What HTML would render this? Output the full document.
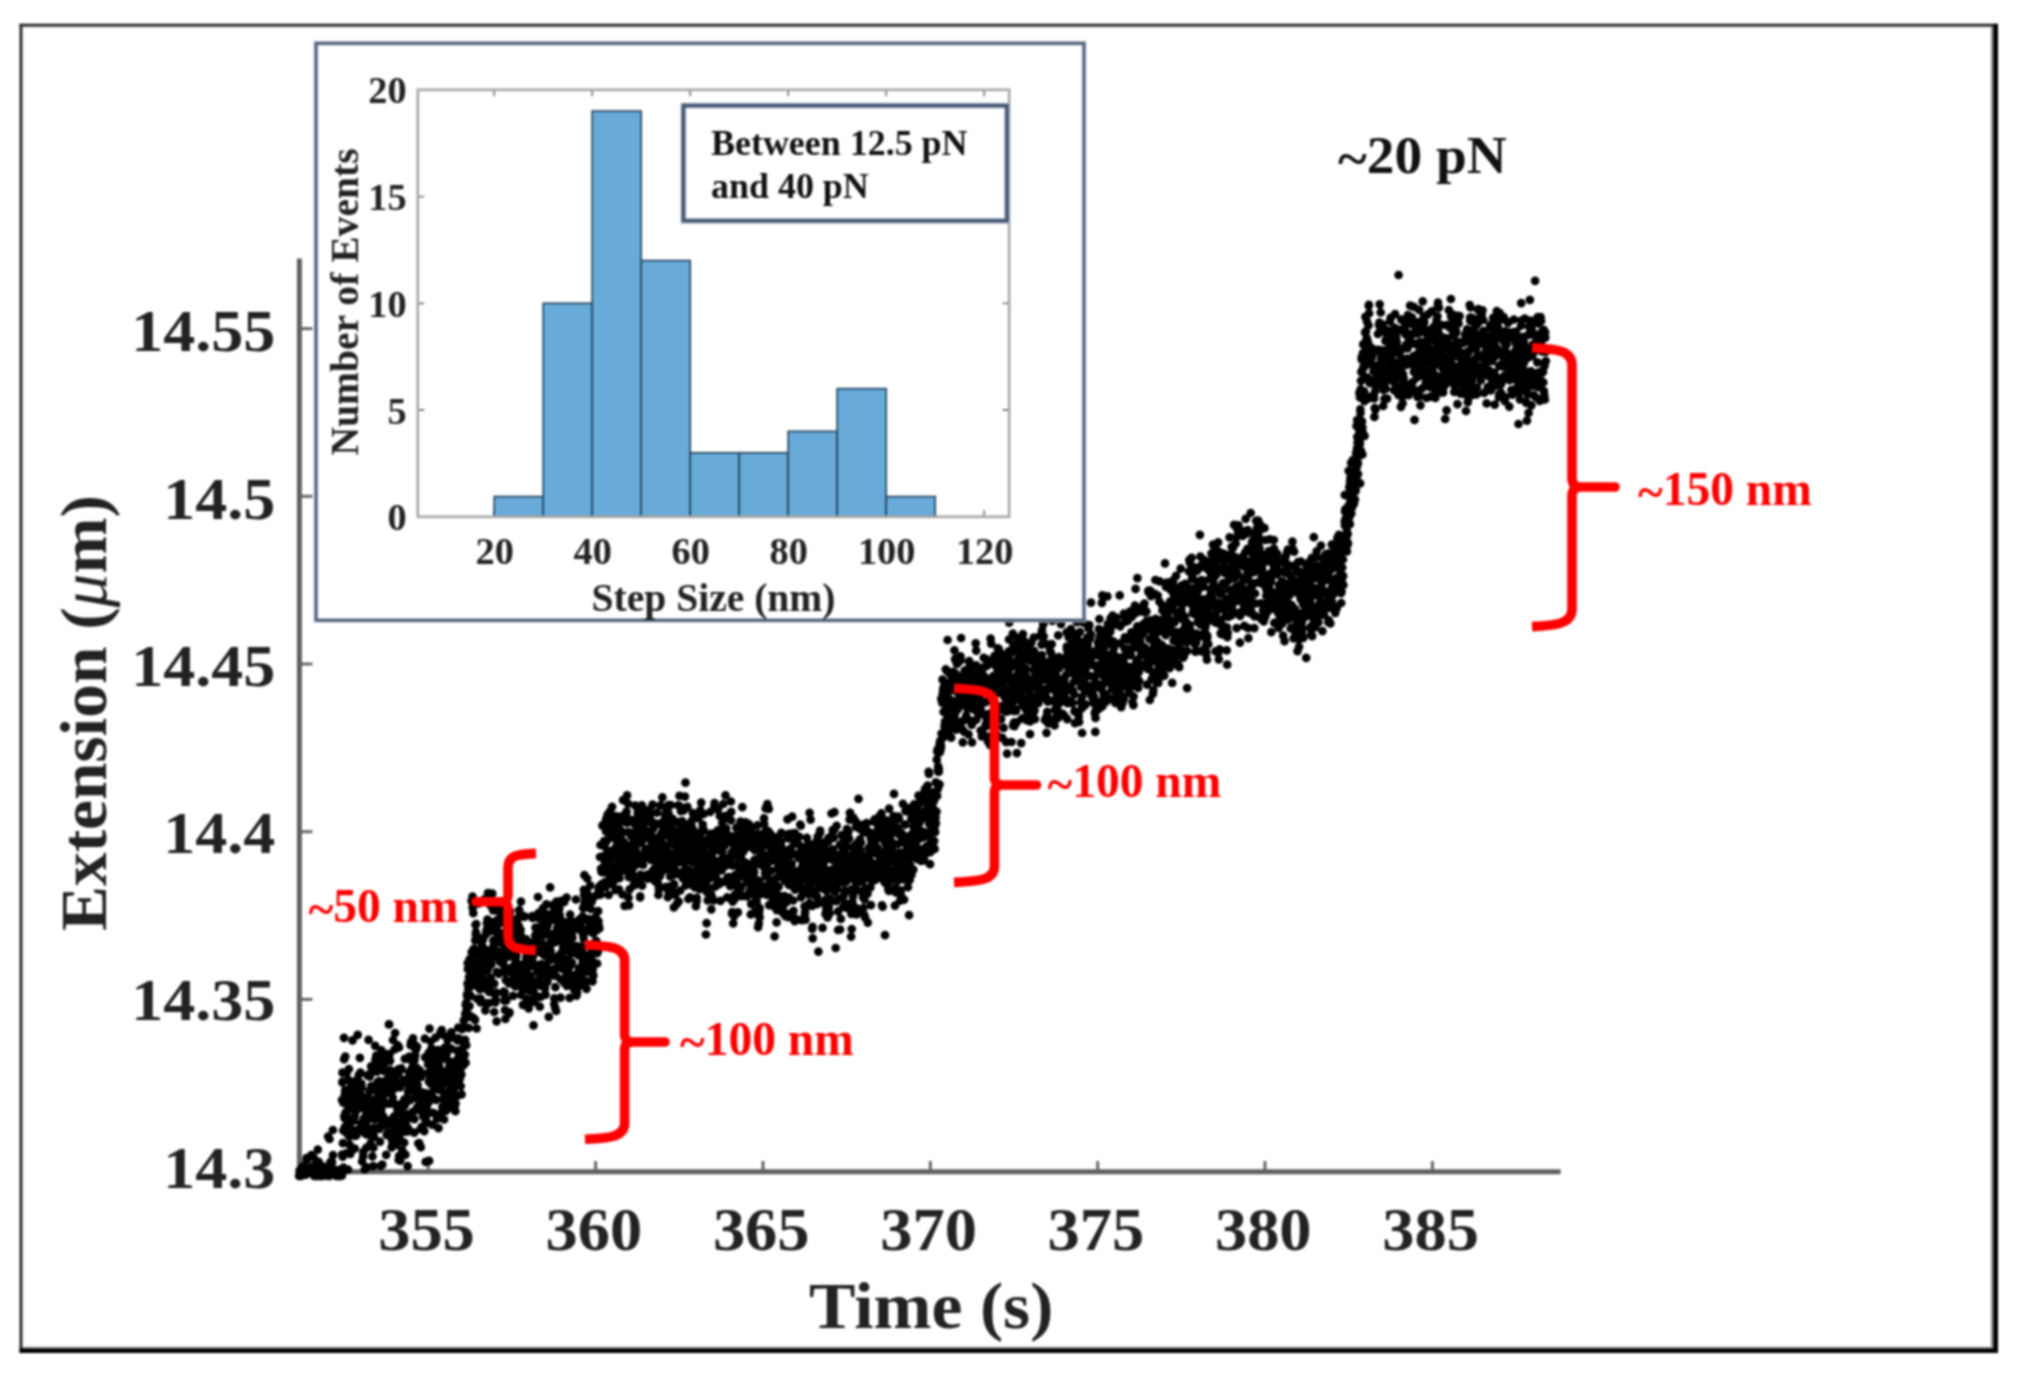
<!DOCTYPE html>
<html lang="en"><head><meta charset="utf-8"><title>Extension vs time</title>
<style>html,body{margin:0;padding:0;background:#fff}svg{display:block;filter:blur(0.9px)}text{font-family:"Liberation Serif",serif;font-weight:bold}</style></head><body>
<svg width="2021" height="1373" viewBox="0 0 2021 1373">
<rect width="2021" height="1373" fill="#fff"/>
<g>
<rect x="19.6" y="26.1" width="1975" height="1.5" fill="#b4b4b4"/>
<rect x="22" y="23.8" width="1.3" height="1326" fill="#c4c4c4"/>
<rect x="1990.9" y="25" width="2.6" height="1324" fill="#8c8c8c"/>
<rect x="20" y="1346.6" width="1974" height="1.9" fill="#a8a8a8"/>
<rect x="19.6" y="23.8" width="1978.4" height="2.4" fill="#1e1e1e"/>
<rect x="19.6" y="23.8" width="2.5" height="1329" fill="#1e1e1e"/>
<rect x="1993.3" y="23.8" width="4.7" height="1329.2" fill="#000"/>
<rect x="19.6" y="1348.3" width="1978.4" height="4.7" fill="#000"/>
</g>
<g stroke="#5f5f5f" fill="none">
<path d="M299.4 258.6V1174.2" stroke-width="5"/>
<path d="M296.9 1171.8H1560.6" stroke-width="5"/>
<g stroke-width="3" stroke="#666">
<path d="M428.3 1171V1161"/>
<path d="M595.6 1171V1161"/>
<path d="M763.0 1171V1161"/>
<path d="M930.3 1171V1161"/>
<path d="M1097.7 1171V1161"/>
<path d="M1265.0 1171V1161"/>
<path d="M1432.4 1171V1161"/>
<path d="M301 328.6H312.4"/>
<path d="M301 496.3H312.4"/>
<path d="M301 664.0H312.4"/>
<path d="M301 831.7H312.4"/>
<path d="M301 999.4H312.4"/>
<path d="M301 1167.1H312.4"/>
</g></g>
<text transform="translate(426.5 1250.4) scale(1.065 1)" text-anchor="middle" font-size="60.5px" fill="#222">355</text>
<text transform="translate(593.85 1250.4) scale(1.065 1)" text-anchor="middle" font-size="60.5px" fill="#222">360</text>
<text transform="translate(761.2 1250.4) scale(1.065 1)" text-anchor="middle" font-size="60.5px" fill="#222">365</text>
<text transform="translate(928.55 1250.4) scale(1.065 1)" text-anchor="middle" font-size="60.5px" fill="#222">370</text>
<text transform="translate(1095.9 1250.4) scale(1.065 1)" text-anchor="middle" font-size="60.5px" fill="#222">375</text>
<text transform="translate(1263.25 1250.4) scale(1.065 1)" text-anchor="middle" font-size="60.5px" fill="#222">380</text>
<text transform="translate(1430.6 1250.4) scale(1.065 1)" text-anchor="middle" font-size="60.5px" fill="#222">385</text>
<text transform="translate(275.4 351.2) scale(1.077 1)" text-anchor="end" font-size="59.5px" fill="#222">14.55</text>
<text transform="translate(275.4 518.5) scale(1.077 1)" text-anchor="end" font-size="59.5px" fill="#222">14.5</text>
<text transform="translate(275.4 685.8) scale(1.077 1)" text-anchor="end" font-size="59.5px" fill="#222">14.45</text>
<text transform="translate(275.4 853.1) scale(1.077 1)" text-anchor="end" font-size="59.5px" fill="#222">14.4</text>
<text transform="translate(275.4 1020.4) scale(1.077 1)" text-anchor="end" font-size="59.5px" fill="#222">14.35</text>
<text transform="translate(275.4 1187.7) scale(1.077 1)" text-anchor="end" font-size="59.5px" fill="#222">14.3</text>
<text transform="translate(931.2 1328) scale(1.055 1)" text-anchor="middle" font-size="66px" fill="#222">Time (s)</text>
<text transform="translate(105.5 713) rotate(-90) scale(1.02 1)" text-anchor="middle" font-size="66px" fill="#222">Extension (<tspan font-style="italic" font-weight="normal">μ</tspan>m)</text>
<path d="M342.0 1100.0h0M342.3 1082.3h0M342.5 1072.7h0M342.6 1081.5h0M342.9 1143.2h0M343.3 1102.6h0M343.3 1130.5h0M343.7 1100.5h0M344.0 1037.8h0M344.1 1059.2h0M344.3 1116.2h0M344.6 1118.2h0M344.8 1094.5h0M345.1 1090.3h0M345.3 1056.6h0M345.6 1112.5h0M345.9 1132.4h0M346.1 1153.4h0M346.3 1112.2h0M346.6 1073.1h0M346.7 1115.5h0M346.9 1104.4h0M347.3 1093.1h0M347.4 1129.4h0M347.6 1124.4h0M348.0 1169.6h0M348.2 1127.3h0M348.5 1080.2h0M348.7 1120.1h0M348.9 1069.0h0M349.1 1136.4h0M349.3 1134.9h0M349.5 1144.7h0M349.8 1134.2h0M350.1 1152.4h0M350.3 1153.9h0M350.5 1128.7h0M350.7 1098.3h0M351.1 1134.7h0M351.2 1085.9h0M351.5 1101.3h0M351.9 1103.5h0M352.0 1095.9h0M352.3 1084.5h0M352.5 1040.3h0M352.8 1108.7h0M352.9 1093.2h0M353.2 1130.2h0M353.4 1131.3h0M353.8 1120.6h0M353.9 1096.8h0M354.2 1081.6h0M354.3 1130.3h0M354.6 1117.1h0M354.8 1148.6h0M355.0 1136.0h0M355.4 1112.4h0M355.5 1130.3h0M355.9 1084.8h0M356.1 1081.4h0M356.3 1135.4h0M356.6 1133.5h0M356.8 1104.2h0M356.9 1096.4h0M357.2 1102.3h0M357.4 1103.8h0M357.7 1034.8h0M357.9 1082.6h0M358.3 1081.3h0M358.4 1081.6h0M358.7 1075.0h0M358.9 1089.2h0M359.2 1084.2h0M359.4 1088.1h0M359.5 1108.1h0M359.9 1057.9h0M360.2 1106.7h0M360.4 1072.5h0M360.6 1107.4h0M360.7 1094.0h0M361.0 1124.2h0M361.4 1083.6h0M361.5 1099.1h0M361.7 1087.3h0M362.1 1161.5h0M362.3 1129.3h0M362.5 1129.3h0M362.7 1121.8h0M362.9 1097.2h0M363.1 1156.3h0M363.3 1151.9h0M363.8 1118.4h0M363.9 1131.8h0M364.2 1122.7h0M364.3 1108.4h0M364.7 1102.4h0M364.7 1169.5h0M365.1 1131.2h0M365.2 1133.4h0M365.5 1117.1h0M365.9 1125.2h0M366.1 1111.2h0M366.3 1147.8h0M366.5 1134.3h0M366.9 1167.4h0M367.0 1112.9h0M367.3 1099.9h0M367.5 1075.3h0M367.7 1111.9h0M368.0 1128.7h0M368.3 1117.8h0M368.5 1097.0h0M368.6 1039.9h0M369.0 1119.2h0M369.0 1103.0h0M369.4 1091.0h0M369.7 1132.7h0M369.8 1076.6h0M370.1 1103.2h0M370.4 1105.6h0M370.5 1143.7h0M370.8 1072.9h0M371.1 1066.4h0M371.3 1086.0h0M371.6 1104.2h0M371.7 1136.9h0M371.9 1102.0h0M372.2 1108.7h0M372.4 1156.4h0M372.7 1137.5h0M373.1 1086.3h0M373.2 1166.2h0M373.4 1147.7h0M373.6 1127.8h0M374.0 1136.5h0M374.1 1099.8h0M374.5 1114.5h0M374.6 1119.2h0M374.9 1090.3h0M375.2 1045.9h0M375.4 1059.5h0M375.6 1086.7h0M375.8 1065.1h0M376.1 1068.0h0M376.3 1055.5h0M376.6 1060.3h0M376.7 1129.0h0M377.0 1071.6h0M377.2 1063.4h0M377.6 1082.2h0M377.7 1065.1h0M378.0 1107.7h0M378.2 1127.7h0M378.5 1095.0h0M378.7 1099.3h0M379.0 1063.6h0M379.1 1081.1h0M379.4 1084.8h0M379.5 1128.8h0M379.7 1109.9h0M380.0 1141.7h0M380.4 1117.9h0M380.7 1165.9h0M380.7 1105.6h0M381.1 1089.7h0M381.3 1109.7h0M381.5 1050.4h0M381.8 1122.3h0M382.0 1122.6h0M382.3 1164.7h0M382.5 1059.7h0M382.7 1117.0h0M383.0 1097.3h0M383.1 1099.6h0M383.3 1116.4h0M383.6 1068.6h0M384.0 1118.3h0M384.2 1071.2h0M384.4 1056.6h0M384.5 1060.7h0M385.0 1081.1h0M385.2 1062.1h0M385.4 1062.2h0M385.6 1070.8h0M385.9 1054.5h0M385.9 1124.8h0M386.2 1154.8h0M386.7 1134.9h0M386.9 1103.6h0M387.2 1086.3h0M387.5 1090.6h0M387.6 1132.7h0M388.0 1092.4h0M388.1 1072.2h0M388.5 1074.6h0M388.6 1054.1h0M388.9 1024.4h0M389.2 1024.4h0M389.4 1055.2h0M389.7 1081.0h0M389.9 1123.2h0M390.1 1060.8h0M390.3 1070.1h0M390.6 1087.5h0M390.7 1103.7h0M391.1 1072.5h0M391.4 1091.3h0M391.6 1147.3h0M391.7 1138.8h0M392.0 1119.0h0M392.2 1119.6h0M392.4 1143.9h0M392.7 1097.6h0M393.0 1040.0h0M393.1 1130.3h0M393.5 1089.3h0M393.7 1120.9h0M393.8 1132.6h0M394.2 1082.0h0M394.5 1116.0h0M394.5 1049.5h0M394.9 1077.7h0M395.1 1033.0h0M395.4 1127.9h0M395.5 1134.9h0M395.8 1138.2h0M396.1 1145.0h0M396.4 1104.7h0M396.6 1143.4h0M396.7 1126.7h0M397.1 1142.3h0M397.3 1108.8h0M397.6 1107.0h0M397.6 1083.8h0M397.8 1045.3h0M398.2 1069.4h0M398.4 1073.3h0M398.7 1160.0h0M399.0 1047.4h0M399.1 1156.1h0M399.3 1122.8h0M399.6 1139.4h0M399.9 1087.4h0M400.0 1104.7h0M400.3 1160.6h0M400.5 1113.3h0M400.8 1070.0h0M401.1 1115.2h0M401.3 1068.4h0M401.5 1084.4h0M401.8 1132.7h0M401.9 1105.0h0M402.2 1150.3h0M402.4 1127.4h0M402.7 1103.9h0M402.9 1128.1h0M403.3 1080.7h0M403.4 1113.6h0M403.6 1079.8h0M403.8 1127.5h0M404.2 1142.7h0M404.3 1099.6h0M404.5 1105.9h0M404.8 1058.8h0M405.0 1105.0h0M405.4 1154.6h0M405.5 1120.9h0M405.8 1080.6h0M406.1 1082.8h0M406.3 1116.5h0M406.4 1125.5h0M406.7 1098.1h0M407.1 1082.1h0M407.2 1131.7h0M407.5 1100.5h0M407.6 1166.2h0M408.0 1091.4h0M408.3 1114.3h0M408.5 1129.0h0M408.7 1091.5h0M408.9 1072.3h0M409.0 1077.4h0M409.4 1056.7h0M409.7 1088.2h0M409.8 1115.0h0M410.0 1117.8h0M410.3 1100.1h0M410.6 1045.1h0M410.9 1081.0h0M411.0 1042.2h0M411.2 1069.5h0M411.6 1060.7h0M411.8 1086.2h0M412.1 1118.2h0M412.4 1061.7h0M412.6 1067.5h0M412.8 1091.2h0M413.0 1038.4h0M413.2 1111.5h0M413.5 1088.2h0M413.6 1072.7h0M414.0 1079.6h0M414.2 1132.7h0M414.4 1119.1h0M414.6 1060.0h0M414.8 1045.2h0M415.1 1048.0h0M415.2 1055.4h0M415.7 1095.0h0M415.8 1050.0h0M416.0 1081.5h0M416.3 1069.0h0M416.6 1067.8h0M416.7 1088.9h0M417.1 1046.8h0M417.3 1107.3h0M417.4 1109.9h0M417.6 1085.1h0M418.0 1099.3h0M418.3 1076.1h0M418.3 1143.3h0M418.7 1106.9h0M419.0 1092.9h0M419.2 1143.1h0M419.3 1092.5h0M419.5 1108.6h0M420.0 1070.7h0M420.0 1074.6h0M420.3 1091.8h0M420.6 1129.0h0M420.8 1147.2h0M421.1 1076.9h0M421.2 1104.3h0M421.6 1127.2h0M421.7 1111.1h0M422.1 1097.4h0M422.1 1094.6h0M422.5 1103.8h0M422.6 1097.1h0M422.9 1094.1h0M423.1 1115.9h0M423.5 1116.8h0M423.7 1111.1h0M423.8 1092.9h0M424.3 1131.1h0M424.5 1099.9h0M424.7 1094.6h0M424.8 1038.7h0M425.1 1057.3h0M425.3 1109.2h0M425.5 1123.1h0M425.7 1161.9h0M426.0 1116.7h0M426.2 1113.2h0M426.4 1109.6h0M426.8 1106.4h0M427.0 1122.7h0M427.2 1101.9h0M427.5 1111.5h0M427.7 1093.6h0M428.0 1073.0h0M428.1 1064.4h0M428.4 1102.6h0M428.7 1052.9h0M428.9 1081.6h0M429.1 1160.9h0M429.5 1028.7h0M429.7 1094.0h0M429.8 1060.5h0M430.0 1064.6h0M430.2 1078.8h0M430.7 1041.5h0M430.9 1052.4h0M431.0 1083.9h0M431.4 1048.6h0M431.5 1076.4h0M431.8 1058.9h0M432.0 1068.4h0M432.3 1124.7h0M432.4 1096.3h0M432.7 1060.0h0M433.0 1049.9h0M433.1 1112.8h0M433.4 1073.4h0M433.7 1062.7h0M434.0 1088.9h0M434.2 1073.0h0M434.5 1054.1h0M434.7 1071.6h0M434.9 1064.7h0M435.2 1076.3h0M435.4 1059.7h0M435.6 1037.6h0M435.8 1068.7h0M436.0 1099.9h0M436.3 1078.7h0M436.4 1052.0h0M436.9 1078.4h0M437.0 1119.0h0M437.2 1114.8h0M437.6 1083.5h0M437.6 1087.5h0M438.0 1052.5h0M438.1 1050.1h0M438.5 1128.2h0M438.7 1071.7h0M439.0 1064.7h0M439.1 1089.9h0M439.5 1083.4h0M439.7 1060.5h0M439.9 1058.6h0M440.2 1079.2h0M440.3 1089.1h0M440.6 1032.2h0M440.9 1058.1h0M441.1 1113.0h0M441.2 1076.0h0M441.6 1085.4h0M441.7 1030.2h0M442.0 1072.9h0M442.3 1083.2h0M442.4 1106.8h0M442.8 1098.8h0M442.8 1034.7h0M443.3 1055.5h0M443.4 1079.4h0M443.6 1071.4h0M444.0 1092.6h0M444.1 1119.5h0M444.4 1110.1h0M444.5 1052.6h0M444.9 1047.5h0M445.1 1053.1h0M445.4 1077.4h0M445.5 1092.9h0M445.8 1107.3h0M446.1 1110.7h0M446.3 1095.5h0M446.4 1097.7h0M446.8 1053.4h0M446.9 1059.2h0M447.2 1046.6h0M447.6 1039.9h0M447.6 1037.3h0M447.9 1083.7h0M448.3 1103.5h0M448.5 1106.5h0M448.7 1079.3h0M449.0 1071.5h0M449.1 1091.2h0M449.4 1065.5h0M449.7 1067.3h0M449.9 1069.3h0M450.1 1107.3h0M450.3 1068.1h0M450.6 1075.8h0M450.8 1085.0h0M451.1 1048.7h0M451.3 1032.3h0M451.5 1094.8h0M451.8 1103.8h0M452.0 1088.3h0M452.2 1083.7h0M452.6 1067.9h0M452.7 1097.7h0M453.0 1064.0h0M453.3 1062.2h0M453.4 1037.5h0M453.7 1089.9h0M453.8 1107.6h0M454.1 1082.9h0M454.5 1107.8h0M454.6 1085.0h0M454.9 1061.6h0M455.1 1074.4h0M455.4 1111.2h0M455.6 1103.6h0M455.8 1085.1h0M456.0 1078.1h0M456.2 1074.6h0M456.5 1081.8h0M456.7 1096.2h0M457.1 1059.5h0M457.2 1051.0h0M457.5 1040.4h0M457.7 1050.6h0M458.0 1084.7h0M458.3 1027.7h0M458.5 1064.9h0M458.6 1038.4h0M458.8 1083.2h0M459.2 1066.5h0M459.4 1053.6h0M459.7 1069.6h0M459.8 1078.6h0M460.2 1062.9h0M460.3 1069.6h0M460.6 1060.7h0M460.7 1086.1h0M461.0 1062.7h0M461.4 1074.5h0M461.6 1094.3h0M461.8 1049.8h0M462.1 1040.9h0M462.2 1029.2h0M462.4 1040.6h0M462.7 1063.7h0M462.9 1028.3h0M463.1 1056.3h0M463.5 1065.1h0M463.7 1043.6h0M463.8 1020.4h0M464.2 1027.7h0M464.5 1027.0h0M464.6 1043.9h0M464.8 1054.7h0M465.1 1039.9h0M465.3 1013.9h0M465.6 1062.7h0M465.8 1004.9h0M466.1 1003.0h0M466.2 1045.2h0M466.5 1010.2h0M466.8 1017.3h0M467.0 995.7h0M467.2 993.8h0M467.6 983.7h0M467.7 963.1h0M467.9 969.2h0M468.1 968.7h0M468.3 987.8h0M468.6 1027.9h0M469.0 977.0h0M469.2 967.4h0M469.3 994.3h0M469.5 1006.1h0M469.8 959.1h0M470.2 1015.8h0M470.3 971.0h0M470.7 986.1h0M470.8 996.1h0M471.1 986.2h0M471.3 970.2h0M471.6 900.8h0M471.7 952.0h0M471.9 976.2h0M472.2 901.8h0M472.5 896.7h0M472.6 907.7h0M472.9 962.3h0M473.2 1017.9h0M473.3 913.2h0M473.6 978.4h0M473.8 948.8h0M474.1 953.5h0M474.5 951.6h0M474.5 977.8h0M474.8 1019.3h0M475.0 1019.9h0M475.3 940.4h0M475.5 924.8h0M475.8 934.6h0M476.0 932.3h0M476.2 924.1h0M476.6 1028.5h0M476.7 985.6h0M477.0 951.7h0M477.2 964.1h0M477.5 998.9h0M477.8 937.1h0M477.9 969.0h0M478.3 980.0h0M478.5 970.8h0M478.7 903.3h0M478.8 956.9h0M479.2 950.9h0M479.4 939.8h0M479.7 985.9h0M479.8 989.1h0M480.2 965.8h0M480.4 950.6h0M480.5 998.5h0M480.8 1002.4h0M480.9 987.6h0M481.4 1002.1h0M481.6 955.8h0M481.9 945.2h0M482.0 941.7h0M482.3 973.2h0M482.5 973.2h0M482.7 946.9h0M483.1 961.9h0M483.2 939.2h0M483.4 961.1h0M483.7 985.4h0M483.8 966.8h0M484.2 988.4h0M484.4 899.4h0M484.6 949.6h0M484.9 986.5h0M485.2 981.8h0M485.3 1010.4h0M485.5 979.8h0M485.7 956.1h0M486.0 934.2h0M486.2 1003.4h0M486.5 930.2h0M486.9 923.4h0M486.9 982.9h0M487.3 970.6h0M487.5 919.7h0M487.8 957.8h0M487.9 893.0h0M488.1 987.1h0M488.5 967.9h0M488.6 929.2h0M488.8 1003.2h0M489.2 991.9h0M489.4 950.4h0M489.6 980.6h0M489.8 959.7h0M490.2 984.9h0M490.3 978.9h0M490.6 905.6h0M490.7 977.8h0M491.1 958.9h0M491.2 956.5h0M491.5 964.1h0M491.7 931.0h0M492.0 930.8h0M492.3 893.5h0M492.4 922.2h0M492.7 929.5h0M493.0 992.6h0M493.2 910.4h0M493.4 940.4h0M493.7 945.1h0M493.9 941.5h0M494.2 1012.0h0M494.3 983.6h0M494.7 949.0h0M494.9 956.0h0M495.2 923.3h0M495.3 1002.4h0M495.6 999.4h0M495.9 950.6h0M496.0 928.3h0M496.2 992.6h0M496.6 1021.3h0M496.8 971.9h0M496.9 957.4h0M497.3 920.2h0M497.4 925.1h0M497.7 908.2h0M498.0 935.7h0M498.2 938.5h0M498.4 911.5h0M498.6 910.5h0M498.8 973.8h0M499.1 938.3h0M499.3 953.0h0M499.5 932.7h0M499.8 904.1h0M500.1 920.4h0M500.3 962.2h0M500.6 913.3h0M500.9 916.5h0M501.0 922.2h0M501.3 942.8h0M501.5 922.3h0M501.7 959.8h0M501.9 951.3h0M502.3 921.4h0M502.5 941.8h0M502.8 907.1h0M502.8 939.0h0M503.2 959.8h0M503.5 933.4h0M503.8 991.5h0M503.8 993.4h0M504.1 965.7h0M504.3 1000.6h0M504.7 970.3h0M504.8 992.4h0M505.0 1010.1h0M505.4 1019.0h0M505.6 972.3h0M505.8 980.1h0M506.2 1000.7h0M506.2 999.4h0M506.4 925.8h0M506.7 944.8h0M506.9 957.1h0M507.1 968.5h0M507.5 917.1h0M507.8 928.8h0M508.0 948.9h0M508.2 918.1h0M508.4 930.9h0M508.7 942.4h0M509.0 983.4h0M509.2 1013.3h0M509.5 1012.4h0M509.6 952.5h0M509.8 913.0h0M510.1 911.2h0M510.3 954.1h0M510.5 919.1h0M510.8 932.5h0M511.1 947.3h0M511.2 971.3h0M511.5 948.6h0M511.8 938.7h0M512.0 925.6h0M512.2 935.3h0M512.4 922.5h0M512.7 924.2h0M513.0 974.7h0M513.2 995.9h0M513.3 966.4h0M513.7 941.5h0M514.0 977.2h0M514.0 935.0h0M514.3 948.9h0M514.5 958.7h0M514.9 921.9h0M515.2 986.4h0M515.2 945.8h0M515.5 957.9h0M515.7 982.4h0M516.0 961.1h0M516.4 956.1h0M516.4 978.0h0M516.7 921.1h0M517.0 946.5h0M517.2 920.3h0M517.5 939.8h0M517.7 918.3h0M517.9 932.2h0M518.2 964.9h0M518.5 971.3h0M518.7 925.8h0M518.8 985.4h0M519.2 910.2h0M519.3 935.5h0M519.7 932.7h0M519.7 929.6h0M520.2 914.0h0M520.3 915.0h0M520.6 929.9h0M520.8 935.5h0M521.0 901.7h0M521.2 994.9h0M521.4 985.1h0M521.7 939.3h0M521.9 978.3h0M522.2 985.6h0M522.4 965.9h0M522.7 990.4h0M522.9 1004.8h0M523.2 966.6h0M523.4 980.2h0M523.6 947.6h0M523.9 972.8h0M524.2 963.6h0M524.3 917.0h0M524.6 916.3h0M524.9 976.0h0M525.1 972.2h0M525.4 942.0h0M525.7 978.6h0M525.8 974.6h0M526.1 939.4h0M526.2 957.3h0M526.4 984.8h0M526.7 999.1h0M527.0 974.2h0M527.3 987.8h0M527.4 958.9h0M527.8 961.5h0M527.9 963.4h0M528.1 967.7h0M528.5 1002.4h0M528.7 1008.4h0M528.8 989.4h0M529.2 990.7h0M529.3 957.6h0M529.5 979.4h0M529.8 980.2h0M530.2 982.2h0M530.2 962.4h0M530.7 975.8h0M530.8 976.7h0M530.9 966.1h0M531.3 960.0h0M531.5 1001.3h0M531.8 942.6h0M532.1 959.9h0M532.3 916.2h0M532.6 918.0h0M532.6 957.4h0M533.0 985.5h0M533.2 990.2h0M533.5 1025.4h0M533.8 993.2h0M534.0 996.8h0M534.1 983.8h0M534.4 1001.8h0M534.7 994.3h0M535.0 982.5h0M535.1 935.6h0M535.4 950.3h0M535.5 927.7h0M535.8 942.9h0M536.1 967.0h0M536.3 934.0h0M536.5 952.2h0M536.7 967.8h0M537.0 965.4h0M537.2 970.9h0M537.4 931.9h0M537.8 937.0h0M538.0 897.0h0M538.2 927.5h0M538.5 913.2h0M538.6 927.6h0M538.8 915.2h0M539.1 918.4h0M539.3 929.6h0M539.7 976.3h0M539.8 1006.7h0M540.1 969.5h0M540.4 980.3h0M540.5 996.9h0M540.7 985.9h0M541.1 951.6h0M541.3 964.2h0M541.5 946.6h0M541.8 912.4h0M541.9 918.1h0M542.2 979.7h0M542.5 943.9h0M542.7 953.9h0M542.9 908.4h0M543.2 970.1h0M543.5 915.4h0M543.6 935.3h0M544.0 924.2h0M544.0 919.8h0M544.5 919.5h0M544.5 955.5h0M544.8 970.1h0M545.0 988.2h0M545.5 994.6h0M545.5 980.9h0M545.8 965.0h0M546.2 949.3h0M546.4 928.5h0M546.4 904.4h0M546.8 914.4h0M547.0 971.7h0M547.3 975.1h0M547.4 981.8h0M547.7 968.7h0M547.8 925.3h0M548.1 932.8h0M548.4 949.7h0M548.6 958.3h0M548.8 1016.9h0M549.1 957.0h0M549.3 958.7h0M549.5 948.6h0M550.0 934.6h0M550.1 887.4h0M550.3 960.1h0M550.6 941.2h0M550.7 950.9h0M551.0 943.1h0M551.4 936.3h0M551.6 942.9h0M551.8 975.5h0M551.9 936.0h0M552.2 934.3h0M552.4 941.4h0M552.6 905.1h0M552.8 919.7h0M553.1 912.7h0M553.5 957.0h0M553.6 969.2h0M553.8 942.6h0M554.2 1004.2h0M554.3 998.3h0M554.6 957.7h0M554.8 969.4h0M555.2 1008.1h0M555.4 987.1h0M555.6 958.8h0M555.8 942.0h0M556.0 975.8h0M556.2 1011.0h0M556.5 901.6h0M556.9 930.0h0M557.1 917.0h0M557.3 927.5h0M557.5 915.3h0M557.6 938.5h0M558.0 913.4h0M558.1 964.1h0M558.3 925.5h0M558.7 924.5h0M559.0 934.4h0M559.2 909.4h0M559.4 907.3h0M559.5 932.7h0M559.7 915.2h0M560.2 954.2h0M560.4 959.0h0M560.5 997.7h0M560.9 979.5h0M561.0 936.7h0M561.2 900.9h0M561.5 921.1h0M561.6 935.8h0M562.0 939.3h0M562.2 921.0h0M562.5 968.9h0M562.7 952.0h0M563.0 947.9h0M563.3 944.5h0M563.4 959.4h0M563.6 979.0h0M564.0 968.8h0M564.1 982.6h0M564.3 901.9h0M564.5 924.9h0M565.0 933.0h0M565.1 963.0h0M565.2 959.3h0M565.6 929.2h0M565.8 949.7h0M566.0 936.3h0M566.4 928.5h0M566.6 897.5h0M566.7 974.4h0M566.9 985.9h0M567.2 969.5h0M567.6 963.3h0M567.7 965.3h0M568.0 932.3h0M568.2 944.5h0M568.4 922.1h0M568.7 962.4h0M568.8 935.6h0M569.2 974.0h0M569.3 967.3h0M569.6 997.9h0M570.0 980.2h0M570.1 914.6h0M570.2 936.3h0M570.6 979.3h0M570.8 934.1h0M570.9 953.9h0M571.2 964.3h0M571.4 977.5h0M571.8 982.9h0M572.0 962.6h0M572.2 936.0h0M572.4 938.0h0M572.8 925.7h0M572.9 927.5h0M573.3 921.8h0M573.5 946.4h0M573.7 975.4h0M573.9 982.4h0M574.2 989.8h0M574.3 980.8h0M574.7 949.7h0M574.8 989.8h0M575.1 984.1h0M575.3 928.9h0M575.6 984.9h0M575.9 899.5h0M575.9 952.6h0M576.4 946.2h0M576.5 995.6h0M576.7 947.5h0M577.0 926.8h0M577.1 992.6h0M577.4 974.4h0M577.7 954.1h0M577.9 986.4h0M578.2 955.1h0M578.5 986.4h0M578.8 968.4h0M579.0 929.1h0M579.2 919.7h0M579.3 925.5h0M579.7 984.9h0M579.8 955.8h0M580.2 970.8h0M580.4 974.8h0M580.6 979.5h0M580.8 949.6h0M581.0 946.6h0M581.3 922.4h0M581.5 976.0h0M581.7 931.5h0M581.9 950.6h0M582.3 929.4h0M582.6 916.3h0M582.6 962.8h0M582.8 957.8h0M583.1 907.9h0M583.3 935.2h0M583.6 938.5h0M583.9 889.8h0M584.1 895.0h0M584.4 875.1h0M584.5 902.8h0M584.9 900.7h0M585.0 968.8h0M585.3 957.6h0M585.6 907.4h0M585.9 955.3h0M586.0 964.9h0M586.3 968.8h0M586.5 988.8h0M586.9 981.4h0M587.0 892.5h0M587.2 878.5h0M587.6 898.5h0M587.8 930.9h0M587.9 902.0h0M588.1 946.0h0M588.5 972.2h0M588.6 919.0h0M588.9 956.5h0M589.3 926.9h0M589.3 921.6h0M589.5 927.6h0M589.8 931.1h0M590.0 897.2h0M590.3 885.5h0M590.6 920.7h0M590.8 908.8h0M591.0 965.4h0M591.4 924.4h0M591.6 952.5h0M591.8 960.1h0M591.9 901.4h0M592.2 925.4h0M592.5 981.4h0M592.7 969.8h0M593.0 926.4h0M593.2 933.3h0M593.4 975.5h0M593.6 930.4h0M593.9 920.5h0M594.2 929.0h0M594.4 951.7h0M594.6 942.7h0M595.0 927.2h0M595.1 948.7h0M595.3 950.9h0M595.6 916.8h0M595.9 947.1h0M596.0 895.6h0M596.3 941.0h0M596.6 930.4h0M596.8 947.2h0M597.1 963.5h0M597.2 953.2h0M597.5 924.3h0M597.7 945.5h0M598.1 911.1h0M598.1 950.8h0M598.5 921.4h0M598.6 888.9h0M599.0 926.7h0M599.3 928.4h0M599.3 886.7h0M599.7 886.1h0M599.9 889.2h0M600.0 857.0h0M600.3 894.7h0M600.5 845.0h0M600.8 894.5h0M601.0 868.8h0M601.3 886.7h0M601.5 871.8h0M601.8 870.0h0M602.1 883.8h0M602.3 856.6h0M602.4 825.6h0M602.7 872.3h0M602.8 870.3h0M603.2 867.3h0M603.5 871.5h0M603.6 858.8h0M604.0 824.2h0M604.2 841.1h0M604.3 845.8h0M604.7 846.4h0M604.8 883.5h0M605.2 863.4h0M605.2 882.2h0M605.5 887.2h0M605.9 869.6h0M606.0 831.3h0M606.2 818.9h0M606.5 826.1h0M606.7 841.1h0M607.0 840.3h0M607.3 852.4h0M607.6 814.6h0M607.6 852.6h0M608.0 816.8h0M608.3 859.7h0M608.4 863.7h0M608.7 895.0h0M608.8 860.0h0M609.2 874.8h0M609.4 833.2h0M609.7 884.2h0M609.9 828.7h0M610.2 830.0h0M610.2 811.2h0M610.6 878.1h0M610.7 851.0h0M611.0 873.9h0M611.2 878.9h0M611.5 830.2h0M611.8 815.1h0M612.1 837.5h0M612.1 806.9h0M612.4 854.8h0M612.7 823.7h0M613.0 880.3h0M613.2 882.2h0M613.4 833.4h0M613.7 876.8h0M613.9 824.9h0M614.1 850.3h0M614.3 869.1h0M614.6 865.6h0M614.9 873.6h0M615.1 823.8h0M615.2 857.2h0M615.6 890.1h0M615.8 847.0h0M616.1 839.6h0M616.3 852.8h0M616.6 825.4h0M616.7 816.3h0M617.0 825.9h0M617.3 836.1h0M617.6 851.4h0M617.8 839.7h0M617.9 859.1h0M618.3 861.2h0M618.4 878.2h0M618.8 859.0h0M618.9 889.3h0M619.1 837.7h0M619.5 878.2h0M619.6 847.9h0M619.9 831.2h0M620.1 857.1h0M620.3 862.1h0M620.5 829.9h0M620.9 844.5h0M620.9 830.6h0M621.4 821.4h0M621.6 868.4h0M621.7 833.7h0M621.9 865.6h0M622.3 850.2h0M622.5 894.5h0M622.6 870.6h0M623.0 815.9h0M623.1 800.2h0M623.4 847.9h0M623.7 841.6h0M624.0 851.0h0M624.2 869.6h0M624.3 860.7h0M624.6 905.8h0M624.9 850.2h0M625.2 856.2h0M625.2 861.9h0M625.6 858.5h0M625.9 860.9h0M626.0 845.5h0M626.2 813.2h0M626.5 811.7h0M626.7 851.1h0M627.1 795.3h0M627.1 822.9h0M627.4 862.5h0M627.6 846.2h0M628.0 803.6h0M628.1 832.1h0M628.5 897.7h0M628.8 877.1h0M629.0 875.1h0M629.1 905.4h0M629.3 845.5h0M629.6 889.4h0M630.0 847.7h0M630.2 856.0h0M630.2 819.8h0M630.6 832.8h0M630.9 835.6h0M631.2 836.2h0M631.3 847.6h0M631.6 877.3h0M631.8 865.8h0M632.0 870.5h0M632.1 843.9h0M632.5 874.9h0M632.6 853.2h0M632.9 862.3h0M633.3 867.2h0M633.4 851.2h0M633.7 885.4h0M634.0 822.8h0M634.1 821.1h0M634.5 881.4h0M634.7 885.1h0M634.8 824.4h0M635.1 819.5h0M635.2 805.7h0M635.7 850.8h0M635.7 850.1h0M635.9 839.7h0M636.4 841.4h0M636.5 864.7h0M636.8 829.5h0M637.1 844.2h0M637.1 833.0h0M637.4 818.6h0M637.7 812.7h0M637.8 821.1h0M638.2 856.3h0M638.5 832.5h0M638.7 855.6h0M638.9 836.6h0M639.0 829.5h0M639.3 830.8h0M639.7 830.4h0M639.8 832.6h0M640.1 897.3h0M640.2 896.4h0M640.7 874.5h0M640.7 878.3h0M641.0 857.4h0M641.3 833.3h0M641.6 843.0h0M641.9 805.3h0M642.1 885.6h0M642.2 823.0h0M642.4 860.3h0M642.8 857.3h0M643.1 864.9h0M643.1 826.0h0M643.5 829.8h0M643.6 810.5h0M643.9 834.5h0M644.1 834.0h0M644.4 822.1h0M644.7 830.9h0M644.9 850.4h0M645.1 816.5h0M645.4 853.7h0M645.6 853.0h0M645.8 849.9h0M646.0 832.7h0M646.3 849.7h0M646.5 857.3h0M646.7 811.0h0M646.9 837.6h0M647.2 832.7h0M647.4 874.5h0M647.8 878.6h0M648.0 831.1h0M648.2 848.9h0M648.5 850.7h0M648.8 809.9h0M648.9 821.7h0M649.2 810.8h0M649.4 810.8h0M649.7 816.9h0M650.0 834.3h0M650.0 855.6h0M650.4 813.2h0M650.6 875.1h0M650.9 859.8h0M651.1 832.2h0M651.4 844.4h0M651.5 849.8h0M651.8 853.0h0M651.9 850.9h0M652.2 830.0h0M652.5 822.1h0M652.6 804.7h0M652.8 870.7h0M653.3 848.3h0M653.5 838.4h0M653.7 827.7h0M653.9 853.9h0M654.2 877.3h0M654.3 869.3h0M654.7 880.8h0M654.9 846.0h0M655.1 841.3h0M655.3 867.5h0M655.5 853.9h0M655.9 861.0h0M656.0 871.1h0M656.3 854.1h0M656.5 824.5h0M656.7 849.7h0M657.0 812.7h0M657.3 823.8h0M657.6 850.9h0M657.8 860.3h0M657.8 882.9h0M658.3 885.1h0M658.4 894.9h0M658.7 837.3h0M658.9 889.6h0M659.1 863.4h0M659.4 855.0h0M659.6 846.9h0M659.9 876.2h0M660.1 823.7h0M660.4 835.3h0M660.5 805.3h0M660.9 834.0h0M661.0 849.9h0M661.3 838.7h0M661.5 856.8h0M661.8 854.0h0M661.9 860.9h0M662.2 871.3h0M662.4 797.3h0M662.7 831.1h0M662.9 862.7h0M663.2 822.8h0M663.5 832.2h0M663.6 821.4h0M663.8 821.5h0M664.2 829.7h0M664.3 835.5h0M664.7 845.2h0M664.8 852.3h0M665.1 815.4h0M665.3 865.6h0M665.5 855.1h0M665.8 887.2h0M666.0 811.5h0M666.3 829.8h0M666.6 835.3h0M666.7 817.1h0M667.1 860.9h0M667.2 827.0h0M667.5 851.3h0M667.7 868.8h0M667.9 897.2h0M668.3 890.8h0M668.5 813.1h0M668.6 805.2h0M668.9 844.8h0M669.2 864.2h0M669.5 886.6h0M669.6 837.0h0M669.9 859.8h0M670.2 876.4h0M670.4 832.4h0M670.6 857.9h0M670.7 805.1h0M671.0 856.4h0M671.3 888.5h0M671.6 828.2h0M671.7 820.4h0M672.0 888.1h0M672.1 818.7h0M672.5 853.9h0M672.7 831.3h0M673.0 819.5h0M673.1 838.5h0M673.5 830.2h0M673.7 874.6h0M673.9 907.4h0M674.1 884.2h0M674.4 893.7h0M674.7 870.3h0M674.8 862.4h0M675.0 853.1h0M675.3 895.0h0M675.5 863.9h0M675.9 846.5h0M676.1 835.8h0M676.4 851.4h0M676.6 855.0h0M676.8 862.4h0M676.9 903.9h0M677.3 856.4h0M677.5 843.4h0M677.8 822.3h0M678.0 822.2h0M678.3 805.3h0M678.4 874.2h0M678.7 901.5h0M678.9 872.5h0M679.1 834.1h0M679.3 862.4h0M679.5 795.9h0M679.9 806.4h0M680.1 857.0h0M680.3 890.5h0M680.7 852.8h0M680.9 811.1h0M681.1 842.6h0M681.4 851.4h0M681.5 827.5h0M681.8 850.0h0M681.9 851.1h0M682.2 821.0h0M682.6 843.3h0M682.6 824.2h0M683.0 878.4h0M683.3 809.0h0M683.4 835.3h0M683.7 810.5h0M683.9 844.0h0M684.1 847.0h0M684.4 870.4h0M684.5 862.9h0M684.8 838.1h0M685.0 796.6h0M685.5 782.7h0M685.5 857.2h0M685.7 885.4h0M686.2 879.7h0M686.2 830.5h0M686.6 837.3h0M686.8 872.1h0M687.0 836.3h0M687.2 848.6h0M687.4 806.9h0M687.6 837.0h0M687.9 878.2h0M688.2 881.5h0M688.4 898.9h0M688.8 847.1h0M688.9 870.1h0M689.3 859.4h0M689.4 851.9h0M689.5 880.3h0M689.9 882.0h0M690.0 897.4h0M690.2 823.0h0M690.7 827.5h0M690.8 854.2h0M691.0 861.5h0M691.2 884.6h0M691.6 856.1h0M691.8 842.2h0M691.9 820.8h0M692.3 820.0h0M692.4 827.9h0M692.8 813.0h0M692.9 862.5h0M693.2 861.1h0M693.4 831.2h0M693.7 875.0h0M694.0 836.7h0M694.2 885.7h0M694.3 852.3h0M694.6 848.8h0M694.8 887.3h0M695.0 853.6h0M695.3 841.0h0M695.5 871.2h0M695.9 906.2h0M696.1 887.5h0M696.4 883.1h0M696.6 901.3h0M696.7 897.8h0M697.0 848.1h0M697.2 881.0h0M697.4 865.4h0M697.7 873.4h0M698.0 858.5h0M698.1 834.0h0M698.4 818.1h0M698.7 862.0h0M698.9 883.4h0M699.2 866.0h0M699.4 880.6h0M699.5 889.2h0M699.8 834.3h0M700.0 833.9h0M700.3 810.0h0M700.6 840.1h0M700.9 870.5h0M701.1 831.4h0M701.2 802.7h0M701.5 814.3h0M701.8 880.7h0M702.1 848.6h0M702.3 858.4h0M702.4 864.8h0M702.7 824.7h0M703.0 851.7h0M703.3 874.1h0M703.4 841.8h0M703.6 814.0h0M703.8 840.0h0M704.1 830.6h0M704.5 841.9h0M704.6 857.5h0M705.0 884.3h0M705.0 857.1h0M705.3 841.2h0M705.6 867.7h0M705.8 885.3h0M705.9 934.5h0M706.3 881.5h0M706.6 923.2h0M706.8 892.0h0M707.0 878.7h0M707.2 892.3h0M707.6 887.6h0M707.7 900.3h0M708.0 845.0h0M708.2 887.8h0M708.3 863.4h0M708.6 865.4h0M708.8 879.1h0M709.1 860.0h0M709.3 855.0h0M709.6 862.2h0M709.8 836.9h0M710.1 812.0h0M710.4 856.1h0M710.5 852.7h0M710.7 835.1h0M711.1 894.3h0M711.3 909.3h0M711.5 872.6h0M711.7 833.5h0M712.0 898.1h0M712.2 897.6h0M712.6 860.8h0M712.8 843.1h0M712.9 850.7h0M713.1 871.6h0M713.5 851.8h0M713.6 900.3h0M713.9 868.7h0M714.2 806.9h0M714.5 803.0h0M714.7 860.5h0M714.9 860.6h0M715.2 886.7h0M715.3 868.3h0M715.5 875.8h0M715.8 835.2h0M716.0 849.1h0M716.3 834.0h0M716.6 846.6h0M716.7 878.9h0M716.9 879.5h0M717.2 880.3h0M717.5 809.4h0M717.8 830.4h0M718.1 809.0h0M718.3 842.9h0M718.5 841.7h0M718.7 840.0h0M718.8 865.4h0M719.1 884.2h0M719.3 849.5h0M719.7 841.7h0M719.8 815.9h0M720.0 835.3h0M720.3 864.5h0M720.5 900.8h0M720.9 860.1h0M720.9 851.3h0M721.2 867.9h0M721.6 870.5h0M721.8 868.6h0M722.0 818.0h0M722.3 822.9h0M722.4 851.4h0M722.8 845.2h0M723.0 857.6h0M723.2 881.9h0M723.3 804.0h0M723.6 828.7h0M723.9 863.3h0M724.1 866.6h0M724.3 817.1h0M724.6 834.9h0M724.8 845.7h0M725.0 881.4h0M725.3 833.1h0M725.5 795.4h0M725.8 815.8h0M726.1 843.0h0M726.3 828.5h0M726.5 862.3h0M726.8 841.7h0M727.0 865.2h0M727.2 897.3h0M727.5 877.3h0M727.8 837.2h0M728.0 817.8h0M728.3 858.1h0M728.5 864.0h0M728.7 835.7h0M728.8 835.6h0M729.2 877.1h0M729.3 879.1h0M729.6 881.7h0M729.8 838.6h0M730.1 862.1h0M730.2 886.1h0M730.6 841.5h0M730.9 801.5h0M731.1 820.3h0M731.2 811.9h0M731.6 852.4h0M731.8 878.4h0M731.9 913.7h0M732.2 912.0h0M732.4 898.7h0M732.7 901.6h0M732.9 865.7h0M733.2 923.3h0M733.4 839.9h0M733.7 836.3h0M733.9 845.6h0M734.2 916.1h0M734.3 899.3h0M734.7 894.9h0M734.9 898.2h0M735.1 882.5h0M735.2 875.1h0M735.7 856.3h0M735.8 850.1h0M736.0 849.1h0M736.3 827.9h0M736.5 877.0h0M736.8 865.2h0M736.9 912.6h0M737.2 896.4h0M737.4 883.3h0M737.8 888.2h0M737.9 912.3h0M738.1 887.4h0M738.4 857.0h0M738.6 837.3h0M738.8 836.2h0M739.3 887.4h0M739.3 871.6h0M739.6 842.9h0M739.8 892.7h0M740.0 853.5h0M740.4 821.6h0M740.7 835.4h0M740.7 855.5h0M741.0 868.7h0M741.3 858.2h0M741.4 887.1h0M741.8 896.2h0M742.1 836.3h0M742.3 807.2h0M742.5 841.3h0M742.6 876.5h0M742.9 828.5h0M743.2 850.4h0M743.5 851.3h0M743.6 824.9h0M743.9 825.1h0M744.2 865.8h0M744.3 845.1h0M744.6 837.3h0M744.8 838.2h0M745.2 829.4h0M745.3 833.0h0M745.5 822.3h0M745.8 862.9h0M746.1 868.9h0M746.2 864.2h0M746.6 881.8h0M746.7 881.1h0M747.0 896.3h0M747.2 873.9h0M747.6 877.6h0M747.6 866.6h0M748.0 869.0h0M748.3 894.2h0M748.4 864.6h0M748.6 847.0h0M748.9 824.1h0M749.1 838.5h0M749.4 840.8h0M749.7 891.1h0M749.8 872.8h0M750.1 865.4h0M750.3 838.3h0M750.6 867.8h0M750.8 914.4h0M751.0 887.6h0M751.2 904.1h0M751.5 864.2h0M751.7 828.1h0M752.1 872.0h0M752.1 840.8h0M752.4 833.8h0M752.7 870.8h0M752.9 842.1h0M753.1 881.3h0M753.4 875.5h0M753.7 882.7h0M753.9 845.5h0M754.3 872.1h0M754.5 859.8h0M754.6 850.1h0M754.8 865.4h0M755.1 846.2h0M755.3 882.8h0M755.7 897.7h0M755.7 910.9h0M756.0 887.1h0M756.3 891.5h0M756.5 882.7h0M756.7 901.8h0M757.1 859.0h0M757.2 840.6h0M757.5 825.3h0M757.6 837.5h0M758.0 834.1h0M758.1 927.2h0M758.4 915.3h0M758.8 923.6h0M759.0 888.1h0M759.2 911.7h0M759.5 880.7h0M759.6 908.2h0M759.7 917.3h0M760.1 894.3h0M760.2 889.6h0M760.7 862.2h0M760.7 856.0h0M761.0 889.2h0M761.2 851.9h0M761.4 856.6h0M761.8 846.3h0M761.9 844.7h0M762.3 861.8h0M762.5 865.9h0M762.7 846.0h0M763.0 865.9h0M763.3 838.7h0M763.4 865.8h0M763.8 846.2h0M764.0 818.4h0M764.2 824.0h0M764.3 841.8h0M764.7 838.4h0M765.0 873.0h0M765.1 831.7h0M765.2 832.2h0M765.7 808.4h0M765.8 858.7h0M766.0 886.1h0M766.3 807.8h0M766.5 876.7h0M766.9 866.6h0M767.0 895.0h0M767.2 876.3h0M767.4 804.0h0M767.7 890.1h0M768.1 831.0h0M768.1 885.5h0M768.4 842.3h0M768.8 808.9h0M768.8 854.3h0M769.1 905.1h0M769.5 890.5h0M769.5 884.1h0M770.0 880.1h0M770.2 858.2h0M770.2 833.7h0M770.6 895.4h0M770.8 883.5h0M771.1 870.9h0M771.2 847.9h0M771.5 860.7h0M771.7 892.8h0M772.0 848.1h0M772.2 896.8h0M772.6 859.2h0M772.8 897.5h0M772.9 901.0h0M773.2 898.6h0M773.4 839.9h0M773.6 884.5h0M773.9 906.3h0M774.3 839.8h0M774.3 860.7h0M774.6 936.3h0M775.0 902.6h0M775.0 837.4h0M775.4 841.6h0M775.5 892.0h0M775.9 878.5h0M776.1 860.6h0M776.4 854.4h0M776.6 922.4h0M776.8 910.1h0M777.1 896.2h0M777.2 899.2h0M777.5 868.5h0M777.6 897.2h0M777.9 861.2h0M778.2 849.1h0M778.5 895.4h0M778.7 886.6h0M778.8 901.3h0M779.2 876.9h0M779.3 866.5h0M779.6 874.0h0M779.9 859.5h0M780.2 862.1h0M780.4 850.7h0M780.5 860.7h0M780.8 843.4h0M781.1 841.2h0M781.3 832.9h0M781.6 847.6h0M781.8 848.4h0M782.0 869.0h0M782.3 904.3h0M782.4 909.6h0M782.8 872.2h0M783.0 913.1h0M783.1 905.8h0M783.4 898.5h0M783.7 865.6h0M783.9 859.3h0M784.0 878.7h0M784.5 896.0h0M784.7 866.0h0M784.7 854.9h0M785.2 880.9h0M785.3 851.4h0M785.5 916.1h0M785.9 880.0h0M786.0 868.7h0M786.3 902.4h0M786.6 850.9h0M786.8 859.3h0M786.9 913.8h0M787.3 834.7h0M787.5 819.3h0M787.8 868.0h0M787.9 876.8h0M788.3 917.1h0M788.5 875.2h0M788.6 838.3h0M788.9 884.9h0M789.1 897.5h0M789.3 833.9h0M789.6 854.6h0M789.8 899.0h0M790.0 873.1h0M790.4 880.5h0M790.6 883.6h0M790.8 848.4h0M791.0 885.4h0M791.3 883.4h0M791.6 854.6h0M791.8 863.6h0M792.0 833.7h0M792.2 816.7h0M792.5 883.1h0M792.8 881.2h0M792.9 916.5h0M793.2 900.5h0M793.5 910.8h0M793.6 872.8h0M794.0 882.4h0M794.1 842.0h0M794.3 887.8h0M794.7 921.2h0M794.9 833.1h0M795.1 889.6h0M795.4 880.0h0M795.5 854.4h0M795.8 871.0h0M796.1 842.8h0M796.4 881.7h0M796.6 882.1h0M796.8 880.3h0M797.0 884.0h0M797.3 854.9h0M797.5 919.7h0M797.8 878.6h0M798.0 873.5h0M798.2 873.1h0M798.5 844.3h0M798.6 857.9h0M799.0 836.6h0M799.1 877.9h0M799.4 885.5h0M799.6 880.0h0M799.8 845.6h0M800.2 852.5h0M800.2 824.6h0M800.5 878.5h0M800.8 825.6h0M801.1 897.3h0M801.2 852.6h0M801.6 887.9h0M801.7 920.2h0M802.0 888.0h0M802.3 866.0h0M802.5 860.9h0M802.8 874.4h0M803.0 879.8h0M803.1 892.2h0M803.5 855.4h0M803.7 852.5h0M803.9 872.9h0M804.2 861.4h0M804.5 862.9h0M804.6 906.4h0M805.0 912.2h0M805.0 914.0h0M805.3 875.7h0M805.6 919.7h0M805.8 869.8h0M806.1 907.1h0M806.3 848.4h0M806.4 858.5h0M806.8 837.9h0M807.1 866.7h0M807.2 865.9h0M807.4 847.4h0M807.8 892.7h0M808.1 843.8h0M808.3 859.8h0M808.4 848.0h0M808.6 867.3h0M808.9 894.5h0M809.1 885.6h0M809.4 903.1h0M809.6 812.8h0M809.8 880.7h0M810.1 855.9h0M810.2 848.6h0M810.6 819.6h0M810.9 858.3h0M811.1 867.1h0M811.4 887.8h0M811.6 872.9h0M811.8 891.6h0M812.1 905.9h0M812.2 928.8h0M812.5 926.8h0M812.7 938.3h0M813.0 871.4h0M813.3 881.2h0M813.5 852.5h0M813.7 859.9h0M814.0 848.8h0M814.1 845.3h0M814.5 851.1h0M814.5 872.7h0M814.8 848.1h0M815.0 843.2h0M815.3 890.0h0M815.7 851.6h0M815.7 896.4h0M816.0 870.0h0M816.3 878.4h0M816.6 845.6h0M816.8 904.1h0M817.0 852.3h0M817.2 896.5h0M817.6 857.8h0M817.6 836.9h0M817.8 903.0h0M818.1 867.0h0M818.4 951.6h0M818.8 861.2h0M819.0 834.8h0M819.2 865.3h0M819.4 861.6h0M819.7 883.8h0M819.9 883.3h0M820.1 830.7h0M820.2 832.3h0M820.5 856.0h0M820.9 873.0h0M821.1 858.8h0M821.4 876.9h0M821.4 844.5h0M821.9 876.4h0M822.0 888.4h0M822.3 877.1h0M822.5 927.9h0M822.7 902.9h0M823.0 878.6h0M823.2 878.7h0M823.5 866.3h0M823.6 852.1h0M823.9 842.7h0M824.1 849.1h0M824.3 868.8h0M824.5 861.1h0M824.9 871.4h0M825.0 879.5h0M825.4 877.7h0M825.5 914.1h0M825.7 899.7h0M826.2 910.0h0M826.2 882.8h0M826.5 890.9h0M826.7 889.3h0M826.9 850.3h0M827.2 878.9h0M827.5 905.9h0M827.6 917.5h0M828.0 906.1h0M828.3 841.6h0M828.4 838.1h0M828.6 852.9h0M828.8 907.4h0M829.1 876.2h0M829.3 856.9h0M829.7 913.4h0M829.7 851.1h0M830.2 898.5h0M830.4 901.8h0M830.5 853.4h0M830.7 852.2h0M831.1 871.6h0M831.3 869.9h0M831.5 813.5h0M831.8 835.3h0M831.9 857.7h0M832.2 884.8h0M832.4 859.8h0M832.7 830.1h0M832.9 849.3h0M833.1 884.2h0M833.5 837.6h0M833.7 837.8h0M833.9 877.4h0M834.2 829.8h0M834.4 812.2h0M834.5 868.7h0M834.9 891.7h0M835.0 886.1h0M835.3 881.6h0M835.6 888.4h0M835.7 948.0h0M836.0 887.4h0M836.3 901.2h0M836.6 825.9h0M836.7 888.8h0M837.0 875.6h0M837.2 863.9h0M837.5 878.1h0M837.7 870.3h0M838.1 911.4h0M838.1 930.0h0M838.5 898.8h0M838.8 880.4h0M838.9 854.7h0M839.2 872.4h0M839.5 861.9h0M839.7 872.8h0M839.8 844.9h0M840.1 929.5h0M840.4 864.8h0M840.5 876.8h0M840.8 918.9h0M840.9 882.4h0M841.4 864.3h0M841.6 846.3h0M841.7 835.1h0M842.1 845.4h0M842.3 846.2h0M842.4 842.8h0M842.7 852.1h0M843.0 907.0h0M843.2 851.8h0M843.4 858.1h0M843.8 895.4h0M843.9 882.6h0M844.1 872.0h0M844.3 891.0h0M844.5 877.1h0M844.9 866.2h0M845.2 863.1h0M845.4 875.9h0M845.6 903.4h0M845.8 846.5h0M846.1 882.0h0M846.3 854.9h0M846.5 891.0h0M846.8 908.0h0M847.0 829.2h0M847.3 847.1h0M847.4 870.2h0M847.6 876.2h0M847.9 839.5h0M848.1 859.8h0M848.5 831.6h0M848.7 855.8h0M849.0 862.1h0M849.1 838.6h0M849.3 859.8h0M849.6 819.6h0M849.9 812.8h0M850.1 812.9h0M850.4 818.1h0M850.5 872.3h0M850.7 862.9h0M851.1 936.6h0M851.3 913.8h0M851.5 906.0h0M851.7 929.0h0M852.0 889.2h0M852.2 878.6h0M852.5 902.0h0M852.7 910.1h0M853.0 896.4h0M853.2 867.6h0M853.4 817.8h0M853.8 863.4h0M854.0 866.6h0M854.2 852.2h0M854.3 852.9h0M854.7 888.7h0M854.8 845.7h0M855.2 874.4h0M855.4 881.4h0M855.6 821.3h0M855.9 827.0h0M856.1 860.1h0M856.3 908.2h0M856.4 914.4h0M856.9 825.6h0M857.1 853.9h0M857.2 876.7h0M857.4 874.0h0M857.7 890.5h0M858.0 842.0h0M858.1 846.6h0M858.5 798.8h0M858.6 860.2h0M859.0 824.9h0M859.2 869.0h0M859.4 882.0h0M859.6 910.5h0M859.8 828.9h0M860.0 839.4h0M860.4 877.9h0M860.6 850.4h0M860.9 854.1h0M861.0 842.6h0M861.4 864.5h0M861.5 869.0h0M861.9 873.3h0M862.1 861.6h0M862.2 862.4h0M862.6 878.1h0M862.8 880.7h0M863.0 897.2h0M863.3 908.0h0M863.4 832.1h0M863.7 895.1h0M863.9 824.6h0M864.2 914.8h0M864.5 889.3h0M864.5 899.5h0M864.9 876.9h0M865.0 917.3h0M865.3 869.9h0M865.5 862.6h0M865.8 888.0h0M866.0 831.2h0M866.2 829.5h0M866.4 857.3h0M866.7 823.2h0M867.1 857.4h0M867.1 832.6h0M867.5 893.7h0M867.7 863.0h0M867.8 922.6h0M868.1 875.4h0M868.5 870.8h0M868.8 847.8h0M869.0 859.9h0M869.1 858.5h0M869.4 852.4h0M869.6 832.3h0M869.8 868.2h0M870.1 873.4h0M870.4 887.3h0M870.7 879.3h0M870.8 838.7h0M870.9 905.2h0M871.4 843.3h0M871.6 867.8h0M871.8 838.3h0M871.9 834.4h0M872.2 881.3h0M872.5 849.6h0M872.7 863.2h0M872.9 843.6h0M873.1 847.6h0M873.4 867.3h0M873.6 851.7h0M873.8 821.7h0M874.3 850.0h0M874.3 846.9h0M874.7 819.3h0M874.9 873.7h0M875.1 879.8h0M875.4 871.6h0M875.5 833.6h0M875.8 839.0h0M876.1 839.6h0M876.3 832.3h0M876.5 853.8h0M876.9 864.9h0M877.1 876.2h0M877.3 847.7h0M877.5 851.4h0M877.7 820.7h0M878.1 828.7h0M878.2 834.1h0M878.5 830.4h0M878.6 863.4h0M879.0 835.7h0M879.0 830.3h0M879.4 816.4h0M879.5 820.9h0M879.8 830.2h0M880.2 825.7h0M880.2 858.7h0M880.5 861.3h0M880.7 855.0h0M881.1 833.4h0M881.2 868.6h0M881.5 813.3h0M881.8 877.4h0M882.0 905.3h0M882.3 852.0h0M882.6 906.7h0M882.6 877.4h0M883.0 879.6h0M883.2 839.2h0M883.5 864.0h0M883.7 871.8h0M883.8 824.2h0M884.0 879.6h0M884.4 827.8h0M884.6 875.3h0M884.8 882.6h0M885.0 935.2h0M885.3 843.3h0M885.5 852.7h0M885.9 835.3h0M886.0 820.3h0M886.4 830.3h0M886.4 836.4h0M886.8 864.8h0M886.9 847.7h0M887.3 835.6h0M887.5 830.9h0M887.7 857.6h0M888.1 838.2h0M888.2 889.1h0M888.4 853.0h0M888.8 877.7h0M888.9 890.8h0M889.2 808.6h0M889.3 826.8h0M889.7 881.7h0M889.8 872.5h0M890.2 850.4h0M890.3 836.5h0M890.6 827.9h0M890.8 829.8h0M890.9 870.9h0M891.2 861.7h0M891.4 846.9h0M891.8 842.1h0M891.9 874.9h0M892.2 850.8h0M892.4 850.0h0M892.7 858.9h0M893.1 830.6h0M893.2 820.6h0M893.5 816.2h0M893.7 862.0h0M894.0 793.9h0M894.1 827.5h0M894.3 830.9h0M894.6 859.4h0M894.8 878.2h0M895.0 905.6h0M895.4 875.0h0M895.6 888.2h0M895.8 892.5h0M896.0 867.5h0M896.3 878.4h0M896.5 879.1h0M896.7 862.3h0M897.1 855.9h0M897.3 892.5h0M897.6 827.7h0M897.8 880.8h0M898.0 844.0h0M898.1 816.7h0M898.5 859.1h0M898.6 817.4h0M898.9 834.5h0M899.0 819.0h0M899.3 872.6h0M899.7 875.0h0M899.8 852.5h0M900.1 900.6h0M900.4 874.9h0M900.7 894.7h0M900.8 890.4h0M901.1 835.4h0M901.3 832.8h0M901.6 867.6h0M901.9 853.2h0M901.9 878.0h0M902.2 855.5h0M902.4 838.7h0M902.7 861.0h0M902.9 803.8h0M903.3 854.8h0M903.3 855.5h0M903.6 866.6h0M904.0 879.3h0M904.1 899.6h0M904.3 878.4h0M904.7 855.6h0M904.9 843.3h0M905.1 824.6h0M905.2 840.5h0M905.5 811.1h0M905.9 836.6h0M906.1 859.1h0M906.2 844.7h0M906.6 850.2h0M906.7 876.6h0M907.1 875.1h0M907.2 871.0h0M907.4 858.3h0M907.6 841.5h0M907.9 887.1h0M908.3 808.0h0M908.5 855.9h0M908.7 863.0h0M909.0 880.3h0M909.1 915.2h0M909.3 870.1h0M909.7 880.0h0M910.0 857.5h0M910.1 865.4h0M910.4 870.8h0M910.7 844.0h0M910.9 836.7h0M911.0 813.3h0M911.3 819.1h0M911.5 874.7h0M911.8 834.0h0M912.0 839.1h0M912.2 812.6h0M912.4 811.5h0M912.8 849.1h0M913.0 839.2h0M913.3 826.5h0M913.3 869.7h0M913.6 845.2h0M913.9 806.6h0M914.2 804.4h0M914.4 852.2h0M914.5 848.1h0M914.9 829.4h0M915.2 845.4h0M915.4 850.4h0M915.7 844.7h0M915.8 831.5h0M916.0 845.7h0M916.4 840.6h0M916.6 859.0h0M916.8 827.7h0M917.0 805.9h0M917.2 820.2h0M917.4 809.1h0M917.8 817.2h0M918.1 839.7h0M918.2 826.6h0M918.5 795.6h0M918.6 814.2h0M918.9 803.0h0M919.2 817.8h0M919.3 837.8h0M919.6 803.4h0M919.8 837.8h0M920.0 821.9h0M920.3 820.9h0M920.5 830.5h0M920.9 856.6h0M921.0 860.8h0M921.3 855.6h0M921.6 849.7h0M921.7 816.5h0M922.0 813.1h0M922.3 834.9h0M922.5 852.0h0M922.8 855.9h0M923.0 851.5h0M923.1 837.3h0M923.5 833.3h0M923.7 858.2h0M923.9 832.9h0M924.1 860.5h0M924.4 797.9h0M924.7 790.3h0M924.9 832.3h0M925.2 832.3h0M925.3 788.6h0M925.7 814.5h0M925.8 809.8h0M926.1 853.3h0M926.4 846.3h0M926.5 850.3h0M926.9 799.6h0M927.1 802.4h0M927.3 810.8h0M927.4 834.1h0M927.7 785.6h0M927.9 802.8h0M928.3 819.1h0M928.5 851.7h0M928.6 771.8h0M929.0 773.9h0M929.2 823.8h0M929.3 803.8h0M929.7 793.8h0M929.9 845.6h0M930.0 864.2h0M930.2 852.1h0M930.6 844.2h0M930.8 840.2h0M931.1 851.1h0M931.2 832.6h0M931.5 849.1h0M931.7 830.1h0M932.1 799.1h0M932.3 811.6h0M932.5 792.6h0M932.7 797.2h0M932.8 807.6h0M933.3 799.8h0M933.5 829.6h0M933.7 829.2h0M934.0 800.9h0M934.2 841.1h0M934.4 829.1h0M934.6 848.9h0M934.8 824.2h0M935.1 832.1h0M935.3 824.4h0M935.6 817.6h0M935.8 782.3h0M935.9 823.3h0M936.3 782.5h0M936.5 811.7h0M936.8 759.7h0M937.1 795.9h0M937.3 751.7h0M937.5 749.9h0M937.7 770.5h0M937.9 788.8h0M938.2 766.4h0M938.5 771.9h0M938.8 771.7h0M938.8 768.8h0M939.0 747.4h0M939.5 784.4h0M939.7 743.6h0M939.9 752.1h0M940.2 740.9h0M940.4 741.4h0M940.7 744.7h0M940.7 749.1h0M941.0 746.2h0M941.3 698.7h0M941.5 733.6h0M941.8 700.5h0M941.9 699.6h0M942.3 702.8h0M942.5 679.6h0M942.7 694.0h0M943.1 691.7h0M943.2 688.7h0M943.5 737.2h0M943.6 711.8h0M943.8 697.9h0M944.2 686.1h0M944.5 726.3h0M944.6 725.5h0M945.0 721.5h0M945.0 685.7h0M945.4 704.2h0M945.7 688.7h0M945.8 669.3h0M946.0 713.4h0M946.3 709.9h0M946.5 694.0h0M946.8 694.1h0M947.0 683.6h0M947.2 671.2h0M947.4 729.5h0M947.6 640.0h0M947.9 696.8h0M948.3 712.6h0M948.4 704.1h0M948.6 727.7h0M948.8 732.5h0M949.1 722.8h0M949.4 713.1h0M949.7 714.8h0M949.9 721.2h0M950.2 687.7h0M950.4 720.7h0M950.6 675.1h0M950.7 682.4h0M951.2 712.8h0M951.2 737.7h0M951.6 719.6h0M951.7 675.0h0M952.1 726.9h0M952.2 721.1h0M952.5 710.7h0M952.6 700.9h0M953.0 706.0h0M953.2 671.8h0M953.5 712.2h0M953.6 681.9h0M953.8 677.4h0M954.2 690.4h0M954.4 650.3h0M954.7 679.6h0M955.0 714.5h0M955.1 659.2h0M955.3 706.5h0M955.6 673.7h0M955.8 704.7h0M956.1 729.7h0M956.3 689.4h0M956.5 662.8h0M956.9 663.5h0M957.1 664.0h0M957.2 678.6h0M957.6 692.3h0M957.8 709.5h0M958.0 676.3h0M958.2 681.6h0M958.5 722.1h0M958.7 658.6h0M958.8 690.4h0M959.1 693.6h0M959.4 681.3h0M959.6 697.5h0M959.8 702.6h0M960.1 684.7h0M960.3 694.6h0M960.5 656.3h0M960.7 660.4h0M961.1 638.0h0M961.2 677.5h0M961.5 704.5h0M961.9 701.5h0M962.0 687.8h0M962.3 692.9h0M962.5 729.7h0M962.8 721.1h0M962.8 742.4h0M963.2 701.3h0M963.5 701.3h0M963.7 675.2h0M964.0 695.9h0M964.1 689.0h0M964.3 732.0h0M964.7 670.7h0M964.8 688.0h0M965.1 683.2h0M965.4 701.4h0M965.5 718.5h0M965.9 706.5h0M966.0 698.6h0M966.2 715.5h0M966.5 683.4h0M966.8 701.8h0M967.0 678.9h0M967.3 699.2h0M967.4 708.8h0M967.6 677.3h0M967.9 699.1h0M968.2 689.0h0M968.5 734.4h0M968.7 669.4h0M968.9 680.8h0M969.2 661.1h0M969.3 676.1h0M969.6 663.8h0M970.0 674.6h0M970.1 720.7h0M970.4 666.1h0M970.6 682.5h0M970.7 671.3h0M970.9 666.3h0M971.2 679.7h0M971.5 705.3h0M971.7 725.0h0M972.0 742.4h0M972.2 694.9h0M972.5 699.7h0M972.6 702.1h0M972.9 687.1h0M973.3 721.6h0M973.3 721.2h0M973.7 709.4h0M973.9 708.0h0M974.2 698.1h0M974.3 704.8h0M974.6 691.7h0M974.9 680.4h0M975.2 684.4h0M975.3 699.4h0M975.5 681.4h0M975.7 643.3h0M976.1 665.3h0M976.2 650.6h0M976.4 719.6h0M976.8 710.8h0M977.1 695.7h0M977.3 711.8h0M977.4 698.5h0M977.7 685.6h0M977.9 688.0h0M978.1 676.3h0M978.5 694.9h0M978.7 672.5h0M978.8 711.3h0M979.2 691.4h0M979.5 696.9h0M979.7 671.2h0M979.8 679.3h0M980.0 713.9h0M980.3 680.6h0M980.6 730.5h0M980.9 710.0h0M981.2 675.2h0M981.4 703.5h0M981.5 680.6h0M981.8 736.4h0M981.9 713.8h0M982.2 675.5h0M982.4 731.7h0M982.6 734.9h0M982.9 674.6h0M983.1 693.0h0M983.4 667.3h0M983.7 657.8h0M983.8 687.2h0M984.0 692.3h0M984.4 685.8h0M984.7 676.8h0M984.9 681.2h0M985.1 702.4h0M985.4 725.6h0M985.6 682.0h0M985.9 724.4h0M985.9 691.1h0M986.2 659.1h0M986.6 725.9h0M986.7 719.6h0M987.0 665.8h0M987.2 690.8h0M987.5 721.9h0M987.8 661.1h0M988.0 741.5h0M988.2 714.1h0M988.4 700.2h0M988.7 683.7h0M988.9 736.6h0M989.1 713.9h0M989.5 720.4h0M989.7 700.5h0M990.0 744.8h0M990.1 721.5h0M990.4 717.6h0M990.6 638.7h0M990.9 685.0h0M991.1 660.7h0M991.2 643.7h0M991.5 680.2h0M991.8 691.2h0M991.9 740.7h0M992.3 680.6h0M992.5 692.6h0M992.8 695.1h0M992.9 686.9h0M993.2 676.1h0M993.5 717.7h0M993.6 711.1h0M994.0 698.4h0M994.1 705.3h0M994.3 682.2h0M994.6 655.9h0M994.8 686.7h0M995.1 665.2h0M995.3 716.5h0M995.7 726.0h0M995.9 721.9h0M996.0 717.5h0M996.2 712.0h0M996.4 734.2h0M996.9 708.0h0M996.9 665.8h0M997.3 668.9h0M997.4 684.3h0M997.6 664.7h0M997.9 648.4h0M998.2 656.5h0M998.3 707.3h0M998.8 678.3h0M998.9 649.1h0M999.1 676.7h0M999.3 660.7h0M999.7 683.9h0M999.9 709.8h0M1000.1 706.7h0M1000.3 670.8h0M1000.6 692.8h0M1000.9 654.8h0M1001.1 719.2h0M1001.4 707.9h0M1001.6 682.2h0M1001.8 660.7h0M1002.0 685.1h0M1002.3 737.8h0M1002.5 666.3h0M1002.8 660.3h0M1002.9 654.6h0M1003.1 682.6h0M1003.5 664.8h0M1003.6 727.9h0M1004.0 705.6h0M1004.2 688.3h0M1004.4 673.2h0M1004.5 697.1h0M1004.9 674.1h0M1005.1 696.1h0M1005.3 691.3h0M1005.7 678.8h0M1005.8 677.9h0M1005.9 711.6h0M1006.2 742.2h0M1006.5 699.9h0M1006.8 708.9h0M1007.1 753.6h0M1007.1 697.8h0M1007.4 711.5h0M1007.7 672.2h0M1007.9 661.6h0M1008.2 653.8h0M1008.5 680.0h0M1008.8 651.4h0M1009.0 639.5h0M1009.2 622.7h0M1009.3 667.7h0M1009.5 676.5h0M1009.9 668.7h0M1010.2 665.1h0M1010.2 691.0h0M1010.6 702.1h0M1010.8 682.1h0M1011.0 661.3h0M1011.2 653.0h0M1011.5 742.0h0M1011.7 677.4h0M1011.9 684.6h0M1012.3 708.1h0M1012.5 689.4h0M1012.8 633.6h0M1013.0 725.6h0M1013.3 710.9h0M1013.4 645.4h0M1013.8 697.5h0M1013.9 722.7h0M1014.2 650.2h0M1014.5 726.1h0M1014.6 708.7h0M1014.8 681.3h0M1015.1 663.9h0M1015.2 698.6h0M1015.6 689.0h0M1015.7 694.1h0M1016.0 710.9h0M1016.3 695.9h0M1016.6 699.9h0M1016.9 753.1h0M1016.9 722.1h0M1017.2 637.8h0M1017.5 651.0h0M1017.7 673.8h0M1017.9 690.4h0M1018.3 667.8h0M1018.5 657.9h0M1018.7 663.2h0M1018.9 652.3h0M1019.2 647.1h0M1019.4 641.6h0M1019.7 670.8h0M1020.0 666.2h0M1020.2 661.0h0M1020.4 686.3h0M1020.5 676.1h0M1020.8 681.1h0M1021.1 699.4h0M1021.2 743.1h0M1021.5 698.6h0M1021.7 690.6h0M1021.9 646.2h0M1022.2 718.4h0M1022.4 705.3h0M1022.7 660.1h0M1022.9 634.1h0M1023.3 674.8h0M1023.4 655.0h0M1023.6 679.4h0M1024.0 698.2h0M1024.2 641.2h0M1024.3 654.5h0M1024.6 700.1h0M1024.9 707.8h0M1025.0 672.4h0M1025.3 684.9h0M1025.6 668.4h0M1025.8 659.4h0M1026.0 698.7h0M1026.3 710.1h0M1026.6 720.1h0M1026.7 718.6h0M1026.9 676.9h0M1027.2 686.6h0M1027.6 715.5h0M1027.6 647.6h0M1027.9 651.5h0M1028.1 718.7h0M1028.5 681.4h0M1028.7 682.7h0M1028.8 710.3h0M1029.2 702.3h0M1029.4 695.3h0M1029.6 692.6h0M1030.0 721.3h0M1030.0 734.2h0M1030.4 707.2h0M1030.5 702.5h0M1030.8 661.2h0M1031.0 612.4h0M1031.4 642.6h0M1031.6 697.8h0M1031.8 713.8h0M1031.9 657.2h0M1032.2 687.5h0M1032.4 680.2h0M1032.8 656.4h0M1033.0 616.2h0M1033.2 683.7h0M1033.4 669.8h0M1033.7 712.0h0M1033.8 637.5h0M1034.2 651.1h0M1034.4 681.8h0M1034.6 710.5h0M1034.9 719.1h0M1035.1 672.8h0M1035.2 677.6h0M1035.6 664.6h0M1035.7 655.3h0M1035.9 663.1h0M1036.3 669.4h0M1036.6 664.1h0M1036.7 702.2h0M1037.0 696.6h0M1037.4 687.4h0M1037.6 684.4h0M1037.8 674.4h0M1038.0 694.2h0M1038.2 694.8h0M1038.4 703.1h0M1038.7 663.2h0M1038.9 683.1h0M1039.1 679.5h0M1039.3 694.4h0M1039.5 666.1h0M1039.8 636.0h0M1040.2 678.9h0M1040.3 677.9h0M1040.5 697.4h0M1040.9 679.9h0M1040.9 691.3h0M1041.4 697.6h0M1041.6 644.6h0M1041.8 655.0h0M1042.0 630.3h0M1042.3 661.9h0M1042.4 696.7h0M1042.6 689.9h0M1043.0 669.1h0M1043.1 624.3h0M1043.4 624.1h0M1043.7 636.4h0M1043.8 662.9h0M1044.3 662.2h0M1044.4 677.1h0M1044.5 679.6h0M1044.9 720.0h0M1045.1 689.1h0M1045.4 679.3h0M1045.6 662.2h0M1045.9 717.5h0M1046.0 692.1h0M1046.4 690.5h0M1046.5 732.8h0M1046.7 699.5h0M1047.0 644.3h0M1047.2 711.9h0M1047.6 716.3h0M1047.7 699.1h0M1047.8 701.6h0M1048.2 723.3h0M1048.4 669.5h0M1048.7 606.7h0M1048.8 681.5h0M1049.2 672.1h0M1049.5 671.2h0M1049.5 645.1h0M1049.9 663.5h0M1050.0 651.2h0M1050.3 664.9h0M1050.5 671.7h0M1050.9 652.5h0M1051.0 666.9h0M1051.3 619.8h0M1051.6 688.3h0M1051.7 644.2h0M1051.9 656.2h0M1052.3 620.9h0M1052.4 679.5h0M1052.7 661.3h0M1052.9 701.2h0M1053.2 701.0h0M1053.4 719.6h0M1053.6 685.5h0M1053.9 690.0h0M1054.2 663.2h0M1054.4 680.1h0M1054.6 725.5h0M1054.8 701.8h0M1055.0 709.6h0M1055.3 700.7h0M1055.6 669.8h0M1055.8 710.4h0M1056.2 698.1h0M1056.2 675.4h0M1056.6 712.7h0M1056.8 694.0h0M1057.1 703.3h0M1057.3 690.4h0M1057.4 706.6h0M1057.8 718.1h0M1057.9 704.1h0M1058.2 635.4h0M1058.5 691.0h0M1058.7 680.3h0M1058.9 657.0h0M1059.0 680.2h0M1059.4 668.2h0M1059.6 662.5h0M1059.8 693.2h0M1060.1 694.0h0M1060.4 683.9h0M1060.6 702.2h0M1060.9 699.5h0M1061.0 624.1h0M1061.2 689.1h0M1061.6 700.2h0M1061.7 697.4h0M1062.1 663.7h0M1062.2 713.6h0M1062.4 679.9h0M1062.7 697.4h0M1062.9 714.0h0M1063.2 687.6h0M1063.4 679.4h0M1063.7 694.7h0M1063.9 696.4h0M1064.1 659.8h0M1064.4 680.3h0M1064.5 715.8h0M1064.8 689.5h0M1065.1 691.9h0M1065.4 687.5h0M1065.5 659.5h0M1065.8 675.4h0M1066.1 698.8h0M1066.2 656.9h0M1066.6 632.3h0M1066.8 646.5h0M1066.9 649.7h0M1067.2 719.2h0M1067.5 703.2h0M1067.7 690.5h0M1068.0 661.7h0M1068.3 667.9h0M1068.5 662.6h0M1068.7 637.3h0M1069.0 650.1h0M1069.1 632.5h0M1069.3 689.6h0M1069.6 650.6h0M1069.9 686.7h0M1070.2 656.9h0M1070.4 629.8h0M1070.5 701.3h0M1070.9 629.2h0M1071.0 701.3h0M1071.2 656.2h0M1071.5 701.7h0M1071.7 689.9h0M1071.9 643.4h0M1072.3 632.4h0M1072.5 703.3h0M1072.8 690.5h0M1072.9 646.5h0M1073.3 654.1h0M1073.5 649.2h0M1073.6 673.9h0M1073.9 681.8h0M1074.2 654.4h0M1074.3 694.4h0M1074.5 711.3h0M1074.9 723.1h0M1075.0 674.1h0M1075.3 654.5h0M1075.6 667.3h0M1075.9 657.0h0M1076.1 648.2h0M1076.3 644.1h0M1076.6 662.0h0M1076.7 622.0h0M1077.1 622.2h0M1077.2 638.4h0M1077.5 679.5h0M1077.8 666.5h0M1078.0 659.3h0M1078.2 676.3h0M1078.4 713.6h0M1078.7 716.3h0M1079.0 667.7h0M1079.1 721.8h0M1079.3 676.8h0M1079.5 664.1h0M1080.0 632.0h0M1080.0 648.9h0M1080.2 650.3h0M1080.5 702.0h0M1080.9 660.1h0M1081.0 687.0h0M1081.3 702.0h0M1081.6 708.5h0M1081.7 669.2h0M1082.1 733.0h0M1082.2 696.5h0M1082.5 673.1h0M1082.7 661.3h0M1082.8 654.9h0M1083.2 658.6h0M1083.4 622.6h0M1083.6 669.1h0M1084.0 642.0h0M1084.1 649.6h0M1084.3 658.3h0M1084.7 685.0h0M1084.9 705.4h0M1085.0 683.0h0M1085.3 691.4h0M1085.6 704.3h0M1085.8 674.8h0M1086.2 646.1h0M1086.4 645.4h0M1086.5 667.6h0M1086.9 690.0h0M1086.9 658.5h0M1087.2 637.7h0M1087.6 649.2h0M1087.7 643.9h0M1087.9 653.2h0M1088.2 639.1h0M1088.5 628.4h0M1088.7 660.9h0M1088.8 649.6h0M1089.0 660.4h0M1089.4 625.0h0M1089.5 637.0h0M1089.8 675.8h0M1090.1 638.3h0M1090.3 651.3h0M1090.5 660.3h0M1090.9 634.3h0M1091.0 602.6h0M1091.4 695.8h0M1091.6 686.1h0M1091.8 690.1h0M1092.0 689.0h0M1092.3 685.4h0M1092.4 690.8h0M1092.7 652.2h0M1093.0 664.9h0M1093.1 684.9h0M1093.4 701.3h0M1093.7 688.8h0M1093.9 696.2h0M1094.1 703.6h0M1094.5 677.1h0M1094.5 702.1h0M1094.8 713.0h0M1095.2 711.5h0M1095.3 731.9h0M1095.5 717.9h0M1095.9 675.5h0M1096.0 655.1h0M1096.4 701.8h0M1096.6 710.5h0M1096.8 668.1h0M1096.9 710.4h0M1097.2 683.7h0M1097.5 655.5h0M1097.8 653.9h0M1097.9 642.8h0M1098.1 648.0h0M1098.4 665.0h0M1098.6 665.9h0M1098.9 629.2h0M1099.1 654.3h0M1099.4 619.0h0M1099.5 637.4h0M1099.8 668.3h0M1100.0 707.8h0M1100.3 685.4h0M1100.5 632.4h0M1100.9 650.4h0M1101.0 633.0h0M1101.2 640.5h0M1101.6 689.5h0M1101.9 602.8h0M1102.1 634.4h0M1102.3 595.3h0M1102.4 706.2h0M1102.7 660.5h0M1102.9 684.8h0M1103.3 675.6h0M1103.5 698.3h0M1103.7 694.7h0M1104.0 665.3h0M1104.2 630.5h0M1104.4 654.4h0M1104.6 677.9h0M1104.8 646.6h0M1105.0 683.0h0M1105.4 694.3h0M1105.6 644.1h0M1105.9 665.9h0M1106.1 661.6h0M1106.4 667.8h0M1106.5 701.4h0M1106.8 655.5h0M1106.9 631.9h0M1107.3 596.4h0M1107.4 637.2h0M1107.8 624.1h0M1108.0 627.2h0M1108.1 676.3h0M1108.5 660.8h0M1108.7 659.0h0M1108.8 662.2h0M1109.2 654.7h0M1109.4 656.7h0M1109.6 639.5h0M1109.9 698.4h0M1110.1 674.5h0M1110.3 631.7h0M1110.6 618.4h0M1110.8 654.5h0M1110.9 644.1h0M1111.2 683.3h0M1111.5 657.8h0M1111.7 689.5h0M1111.9 675.8h0M1112.3 686.3h0M1112.6 615.6h0M1112.7 642.8h0M1113.0 625.4h0M1113.3 686.1h0M1113.5 641.7h0M1113.7 656.4h0M1113.8 648.2h0M1114.2 654.8h0M1114.3 668.4h0M1114.5 683.5h0M1114.9 697.8h0M1115.1 685.2h0M1115.4 703.0h0M1115.5 658.3h0M1115.9 621.9h0M1116.1 619.3h0M1116.4 617.8h0M1116.5 692.1h0M1116.7 699.3h0M1116.9 661.8h0M1117.3 668.5h0M1117.5 662.8h0M1117.7 681.4h0M1117.9 624.5h0M1118.1 668.3h0M1118.4 673.7h0M1118.6 695.4h0M1119.0 685.6h0M1119.1 681.0h0M1119.5 664.1h0M1119.7 595.4h0M1119.8 689.8h0M1120.2 626.3h0M1120.4 643.4h0M1120.6 657.4h0M1120.9 669.5h0M1121.1 684.1h0M1121.2 707.1h0M1121.6 668.7h0M1121.6 664.0h0M1121.9 696.0h0M1122.2 686.8h0M1122.4 703.3h0M1122.7 666.8h0M1122.9 675.5h0M1123.2 677.9h0M1123.5 659.3h0M1123.8 699.1h0M1123.9 613.5h0M1124.1 616.5h0M1124.4 656.5h0M1124.5 648.5h0M1124.8 637.4h0M1125.1 622.0h0M1125.2 665.5h0M1125.6 678.1h0M1125.9 680.8h0M1126.0 686.2h0M1126.2 650.1h0M1126.5 669.5h0M1126.7 673.2h0M1127.1 675.3h0M1127.3 616.6h0M1127.4 639.9h0M1127.8 621.0h0M1128.0 651.6h0M1128.1 648.8h0M1128.4 666.8h0M1128.7 684.9h0M1129.0 693.0h0M1129.1 652.4h0M1129.4 689.4h0M1129.7 682.2h0M1129.8 677.9h0M1130.2 655.5h0M1130.2 611.4h0M1130.5 670.0h0M1130.7 654.3h0M1131.1 635.6h0M1131.3 632.3h0M1131.5 616.9h0M1131.7 616.9h0M1132.0 667.7h0M1132.1 686.2h0M1132.5 702.2h0M1132.8 639.9h0M1132.9 670.1h0M1133.1 684.6h0M1133.4 705.1h0M1133.6 696.4h0M1134.0 666.4h0M1134.0 613.8h0M1134.4 644.3h0M1134.6 647.3h0M1134.9 605.5h0M1135.2 632.7h0M1135.2 631.0h0M1135.6 588.9h0M1135.9 646.6h0M1136.1 612.9h0M1136.3 662.7h0M1136.5 676.7h0M1136.7 660.3h0M1137.1 639.3h0M1137.3 626.4h0M1137.4 578.1h0M1137.6 611.9h0M1137.9 659.3h0M1138.2 687.8h0M1138.4 680.1h0M1138.8 672.1h0M1139.0 641.2h0M1139.2 681.1h0M1139.4 668.2h0M1139.7 649.2h0M1140.0 629.4h0M1140.0 636.2h0M1140.4 642.0h0M1140.5 610.2h0M1140.9 636.1h0M1141.0 655.5h0M1141.3 609.1h0M1141.5 632.4h0M1141.8 652.6h0M1142.0 606.8h0M1142.3 611.5h0M1142.6 628.1h0M1142.7 666.5h0M1143.0 633.4h0M1143.1 631.6h0M1143.3 624.2h0M1143.7 627.7h0M1144.0 649.2h0M1144.2 609.1h0M1144.4 603.5h0M1144.7 664.5h0M1144.9 647.5h0M1145.1 612.3h0M1145.3 624.8h0M1145.7 663.7h0M1145.8 627.5h0M1146.1 628.5h0M1146.4 611.7h0M1146.6 621.1h0M1146.8 652.4h0M1147.1 684.7h0M1147.4 655.9h0M1147.5 660.5h0M1147.7 668.9h0M1148.0 623.3h0M1148.3 590.9h0M1148.5 621.1h0M1148.6 592.2h0M1148.8 623.8h0M1149.1 667.2h0M1149.5 639.1h0M1149.7 652.7h0M1149.8 700.0h0M1150.1 590.6h0M1150.3 620.4h0M1150.5 639.0h0M1150.7 630.7h0M1151.1 596.1h0M1151.3 661.2h0M1151.6 657.5h0M1151.7 679.0h0M1152.1 652.0h0M1152.2 661.0h0M1152.5 650.3h0M1152.8 694.0h0M1152.9 672.9h0M1153.3 690.3h0M1153.5 641.5h0M1153.8 646.5h0M1153.8 660.1h0M1154.2 633.9h0M1154.4 645.6h0M1154.7 626.4h0M1154.8 593.9h0M1155.0 635.3h0M1155.4 580.0h0M1155.5 625.5h0M1155.7 618.9h0M1155.9 641.0h0M1156.3 682.8h0M1156.5 624.5h0M1156.8 654.2h0M1157.1 641.1h0M1157.1 621.8h0M1157.6 670.6h0M1157.8 595.6h0M1158.1 678.7h0M1158.3 683.0h0M1158.4 664.8h0M1158.6 631.7h0M1159.0 629.8h0M1159.1 662.2h0M1159.4 601.6h0M1159.7 581.3h0M1159.9 655.9h0M1160.1 654.7h0M1160.4 627.9h0M1160.6 650.7h0M1160.9 676.6h0M1161.0 646.1h0M1161.2 654.5h0M1161.6 644.9h0M1161.8 619.8h0M1162.1 605.1h0M1162.2 626.4h0M1162.4 610.5h0M1162.8 657.1h0M1163.1 665.2h0M1163.1 620.4h0M1163.5 631.7h0M1163.6 668.6h0M1163.9 665.0h0M1164.2 675.7h0M1164.3 647.5h0M1164.7 658.7h0M1165.0 628.1h0M1165.0 563.4h0M1165.4 614.6h0M1165.5 617.3h0M1165.7 635.1h0M1166.0 586.8h0M1166.3 658.2h0M1166.6 633.4h0M1166.8 582.7h0M1166.9 662.1h0M1167.1 651.3h0M1167.6 622.0h0M1167.7 615.9h0M1168.0 654.8h0M1168.2 628.3h0M1168.5 653.3h0M1168.7 606.2h0M1168.9 609.7h0M1169.1 648.9h0M1169.4 583.1h0M1169.6 668.2h0M1169.8 628.2h0M1170.1 601.5h0M1170.4 603.0h0M1170.5 656.8h0M1170.8 590.1h0M1171.0 606.3h0M1171.3 624.8h0M1171.6 605.4h0M1171.7 653.0h0M1172.0 660.2h0M1172.2 682.9h0M1172.4 664.7h0M1172.7 580.6h0M1172.9 587.9h0M1173.1 581.2h0M1173.5 640.7h0M1173.6 633.3h0M1173.9 595.5h0M1174.2 586.6h0M1174.4 649.9h0M1174.5 622.5h0M1174.9 620.2h0M1175.0 594.1h0M1175.3 636.6h0M1175.7 611.9h0M1175.9 602.8h0M1176.1 575.9h0M1176.3 591.3h0M1176.6 632.2h0M1176.8 663.7h0M1176.9 640.9h0M1177.4 664.7h0M1177.4 651.0h0M1177.8 654.8h0M1177.9 599.7h0M1178.1 587.8h0M1178.3 636.4h0M1178.8 617.4h0M1178.8 665.6h0M1179.2 667.2h0M1179.3 646.6h0M1179.6 597.9h0M1179.8 589.4h0M1180.2 592.2h0M1180.2 588.1h0M1180.7 568.7h0M1180.8 599.0h0M1181.2 618.6h0M1181.3 586.9h0M1181.5 610.3h0M1181.8 639.4h0M1181.9 585.4h0M1182.2 601.8h0M1182.4 604.7h0M1182.8 616.3h0M1183.0 657.7h0M1183.1 630.3h0M1183.3 637.6h0M1183.8 656.6h0M1183.8 629.7h0M1184.1 639.1h0M1184.3 654.2h0M1184.6 651.3h0M1184.8 616.6h0M1185.1 583.8h0M1185.3 625.2h0M1185.5 594.4h0M1185.9 597.8h0M1186.0 621.6h0M1186.2 634.5h0M1186.5 593.9h0M1186.7 642.4h0M1187.1 650.9h0M1187.1 688.1h0M1187.4 639.5h0M1187.7 632.4h0M1187.9 636.0h0M1188.3 633.4h0M1188.4 602.1h0M1188.6 599.0h0M1188.9 571.3h0M1189.2 588.0h0M1189.3 560.1h0M1189.7 624.9h0M1190.0 562.9h0M1190.0 628.9h0M1190.3 570.9h0M1190.6 601.4h0M1190.8 598.7h0M1191.0 592.2h0M1191.2 595.5h0M1191.6 557.8h0M1191.9 579.4h0M1192.1 567.6h0M1192.3 577.2h0M1192.5 605.6h0M1192.8 613.3h0M1193.0 612.1h0M1193.3 641.9h0M1193.5 613.0h0M1193.7 598.5h0M1194.0 592.2h0M1194.1 588.3h0M1194.3 637.3h0M1194.5 613.3h0M1195.0 644.5h0M1195.2 609.9h0M1195.4 651.6h0M1195.5 599.7h0M1195.7 614.8h0M1196.0 567.5h0M1196.3 642.7h0M1196.5 633.7h0M1196.7 597.1h0M1197.0 571.0h0M1197.3 586.6h0M1197.4 592.7h0M1197.7 622.1h0M1197.9 622.1h0M1198.2 581.6h0M1198.5 589.2h0M1198.6 635.9h0M1199.0 610.5h0M1199.1 602.8h0M1199.3 613.4h0M1199.7 601.1h0M1199.9 534.8h0M1200.2 606.4h0M1200.3 556.5h0M1200.5 624.7h0M1200.8 651.2h0M1201.2 567.5h0M1201.3 616.4h0M1201.6 634.7h0M1201.7 580.2h0M1202.1 564.3h0M1202.2 636.4h0M1202.5 584.3h0M1202.8 610.8h0M1203.0 603.7h0M1203.3 586.6h0M1203.4 559.6h0M1203.6 599.4h0M1204.0 565.8h0M1204.2 581.2h0M1204.3 604.5h0M1204.5 623.0h0M1204.9 647.8h0M1205.2 628.1h0M1205.4 636.1h0M1205.5 625.7h0M1205.8 620.6h0M1206.2 654.2h0M1206.3 651.9h0M1206.6 643.0h0M1206.9 659.7h0M1207.1 635.3h0M1207.2 622.0h0M1207.4 637.3h0M1207.8 613.6h0M1208.0 611.6h0M1208.3 644.2h0M1208.3 570.0h0M1208.6 598.4h0M1208.9 567.6h0M1209.2 561.4h0M1209.3 569.4h0M1209.6 578.9h0M1209.8 606.1h0M1210.2 595.7h0M1210.3 589.2h0M1210.5 564.6h0M1210.9 573.2h0M1211.0 593.4h0M1211.3 605.7h0M1211.4 553.6h0M1211.7 598.5h0M1211.9 580.0h0M1212.2 580.1h0M1212.5 598.1h0M1212.7 615.9h0M1213.0 544.6h0M1213.3 581.5h0M1213.4 582.4h0M1213.6 585.0h0M1214.0 559.8h0M1214.1 557.4h0M1214.3 561.9h0M1214.6 549.6h0M1214.9 619.4h0M1215.1 604.6h0M1215.3 622.4h0M1215.6 651.4h0M1215.8 613.8h0M1216.0 575.3h0M1216.3 651.6h0M1216.5 619.3h0M1216.7 608.3h0M1217.0 623.0h0M1217.2 587.6h0M1217.5 560.8h0M1217.8 569.2h0M1218.0 551.2h0M1218.2 542.3h0M1218.4 652.6h0M1218.8 659.3h0M1218.8 602.5h0M1219.2 620.7h0M1219.4 592.5h0M1219.6 649.4h0M1219.9 624.1h0M1220.1 594.0h0M1220.4 604.7h0M1220.7 620.0h0M1220.7 633.6h0M1221.0 632.5h0M1221.3 555.8h0M1221.4 607.8h0M1221.8 591.8h0M1222.1 609.2h0M1222.2 634.5h0M1222.4 625.0h0M1222.7 553.4h0M1222.9 583.2h0M1223.1 560.9h0M1223.4 584.3h0M1223.7 567.0h0M1223.9 554.8h0M1224.2 560.8h0M1224.3 572.9h0M1224.5 554.4h0M1225.0 570.7h0M1225.1 568.4h0M1225.4 616.5h0M1225.5 608.7h0M1225.8 573.0h0M1226.1 598.5h0M1226.2 628.3h0M1226.4 605.9h0M1226.7 650.4h0M1226.9 627.4h0M1227.2 664.7h0M1227.4 637.1h0M1227.7 632.9h0M1227.9 581.1h0M1228.1 571.0h0M1228.4 616.9h0M1228.7 556.2h0M1228.9 603.5h0M1229.0 579.5h0M1229.5 589.9h0M1229.6 537.4h0M1230.0 560.3h0M1230.0 598.4h0M1230.2 608.4h0M1230.5 577.1h0M1230.9 554.1h0M1231.0 604.2h0M1231.4 615.4h0M1231.6 546.8h0M1231.7 558.3h0M1232.0 564.8h0M1232.2 605.2h0M1232.5 578.2h0M1232.8 574.7h0M1232.9 548.0h0M1233.3 595.7h0M1233.4 572.7h0M1233.6 574.9h0M1234.0 562.7h0M1234.1 524.9h0M1234.4 573.1h0M1234.6 578.4h0M1234.9 612.3h0M1235.0 601.6h0M1235.3 557.1h0M1235.7 543.6h0M1235.8 586.8h0M1236.0 571.6h0M1236.4 574.2h0M1236.6 628.2h0M1236.7 592.3h0M1237.1 572.8h0M1237.1 536.4h0M1237.5 529.8h0M1237.7 564.5h0M1237.9 574.2h0M1238.2 563.7h0M1238.5 525.3h0M1238.7 561.8h0M1239.0 565.5h0M1239.3 528.9h0M1239.3 589.8h0M1239.6 592.9h0M1239.9 642.6h0M1240.1 615.8h0M1240.3 601.2h0M1240.6 594.9h0M1240.9 600.5h0M1241.1 584.3h0M1241.4 598.8h0M1241.6 590.4h0M1241.7 598.5h0M1242.1 611.0h0M1242.3 599.2h0M1242.4 591.5h0M1242.8 535.8h0M1242.9 556.4h0M1243.2 562.4h0M1243.5 579.6h0M1243.8 588.8h0M1243.9 531.7h0M1244.3 606.1h0M1244.3 625.8h0M1244.5 611.5h0M1244.8 610.4h0M1245.1 567.5h0M1245.3 552.4h0M1245.5 599.1h0M1245.7 518.8h0M1246.1 563.0h0M1246.3 568.1h0M1246.6 575.3h0M1246.8 568.1h0M1247.1 533.4h0M1247.3 576.9h0M1247.5 548.9h0M1247.7 530.1h0M1247.9 576.2h0M1248.1 628.2h0M1248.4 638.1h0M1248.6 603.0h0M1248.8 603.5h0M1249.1 561.1h0M1249.3 594.8h0M1249.7 612.8h0M1249.9 603.2h0M1250.0 591.5h0M1250.3 582.3h0M1250.5 610.3h0M1250.7 513.0h0M1251.0 599.0h0M1251.2 611.0h0M1251.4 587.8h0M1251.8 548.2h0M1252.0 542.2h0M1252.3 552.8h0M1252.5 542.8h0M1252.7 544.5h0M1252.9 540.7h0M1253.2 564.0h0M1253.4 572.3h0M1253.6 566.5h0M1254.0 533.6h0M1254.1 551.3h0M1254.3 628.2h0M1254.6 616.5h0M1254.9 583.4h0M1255.2 593.5h0M1255.3 603.3h0M1255.5 616.1h0M1255.8 557.7h0M1256.1 558.7h0M1256.2 520.9h0M1256.6 543.0h0M1256.8 528.3h0M1257.0 536.7h0M1257.2 556.4h0M1257.5 538.1h0M1257.6 545.9h0M1257.9 549.1h0M1258.2 520.6h0M1258.5 536.4h0M1258.6 568.2h0M1258.8 581.9h0M1259.2 563.5h0M1259.5 548.1h0M1259.5 558.7h0M1259.9 524.3h0M1260.0 540.8h0M1260.3 552.5h0M1260.5 540.5h0M1260.8 529.3h0M1261.0 603.3h0M1261.3 619.1h0M1261.5 575.1h0M1261.7 583.6h0M1261.9 578.6h0M1262.2 568.5h0M1262.4 572.8h0M1262.6 577.8h0M1263.0 610.3h0M1263.2 615.8h0M1263.5 575.1h0M1263.7 621.3h0M1263.9 608.2h0M1264.2 576.7h0M1264.5 528.2h0M1264.6 555.3h0M1264.7 557.9h0M1265.1 555.9h0M1265.2 616.9h0M1265.6 561.6h0M1265.7 540.0h0M1266.1 589.1h0M1266.2 595.6h0M1266.6 584.8h0M1266.7 582.3h0M1267.0 611.4h0M1267.3 612.2h0M1267.4 587.3h0M1267.7 555.2h0M1267.9 597.6h0M1268.1 584.3h0M1268.4 601.7h0M1268.6 579.8h0M1268.9 551.2h0M1269.0 574.3h0M1269.3 588.2h0M1269.5 608.9h0M1269.9 539.4h0M1270.1 609.2h0M1270.3 591.2h0M1270.6 606.5h0M1270.9 578.7h0M1271.1 581.6h0M1271.3 632.2h0M1271.5 603.8h0M1271.8 558.3h0M1272.1 573.0h0M1272.3 595.9h0M1272.5 571.9h0M1272.8 559.1h0M1272.8 563.8h0M1273.1 558.4h0M1273.5 554.7h0M1273.8 540.0h0M1273.8 565.4h0M1274.0 548.7h0M1274.3 622.9h0M1274.6 596.3h0M1274.8 561.6h0M1275.1 593.6h0M1275.4 606.7h0M1275.5 592.5h0M1275.9 606.1h0M1276.0 602.2h0M1276.3 559.4h0M1276.5 574.5h0M1276.7 555.2h0M1277.0 568.0h0M1277.1 553.5h0M1277.5 599.5h0M1277.7 612.4h0M1277.9 611.3h0M1278.1 596.0h0M1278.4 593.1h0M1278.7 627.8h0M1279.0 585.1h0M1279.1 598.1h0M1279.5 612.1h0M1279.6 587.1h0M1279.8 618.4h0M1280.0 593.9h0M1280.4 561.9h0M1280.5 610.5h0M1280.7 607.3h0M1281.1 571.6h0M1281.3 596.1h0M1281.6 610.9h0M1281.8 581.1h0M1282.0 619.5h0M1282.2 623.6h0M1282.4 619.5h0M1282.7 604.5h0M1283.1 635.5h0M1283.1 604.2h0M1283.4 585.1h0M1283.6 582.5h0M1283.8 600.9h0M1284.2 616.3h0M1284.5 641.1h0M1284.6 591.6h0M1284.9 592.6h0M1285.2 561.6h0M1285.3 556.6h0M1285.7 556.3h0M1285.9 573.1h0M1286.1 567.9h0M1286.2 599.0h0M1286.5 601.4h0M1286.7 603.7h0M1287.1 619.6h0M1287.3 551.7h0M1287.4 600.8h0M1287.7 611.1h0M1287.9 549.7h0M1288.3 606.0h0M1288.4 588.6h0M1288.8 611.5h0M1289.0 594.1h0M1289.0 566.9h0M1289.4 565.3h0M1289.6 574.8h0M1290.0 583.2h0M1290.1 618.4h0M1290.3 594.4h0M1290.5 582.0h0M1290.7 628.5h0M1291.0 585.7h0M1291.2 627.7h0M1291.5 614.6h0M1291.8 605.4h0M1292.1 591.5h0M1292.3 616.9h0M1292.4 541.7h0M1292.7 548.8h0M1293.0 579.8h0M1293.1 566.2h0M1293.4 607.8h0M1293.6 638.4h0M1293.9 590.2h0M1294.1 551.7h0M1294.5 580.6h0M1294.6 584.5h0M1294.9 609.0h0M1295.1 610.0h0M1295.3 632.1h0M1295.7 616.2h0M1295.8 637.3h0M1296.0 618.3h0M1296.3 625.0h0M1296.5 571.9h0M1296.8 570.2h0M1296.9 584.8h0M1297.2 618.3h0M1297.5 651.1h0M1297.7 618.7h0M1298.0 562.2h0M1298.1 582.1h0M1298.4 593.5h0M1298.8 613.3h0M1298.9 639.4h0M1299.0 646.8h0M1299.3 588.0h0M1299.7 619.8h0M1299.8 593.3h0M1300.1 571.5h0M1300.4 633.0h0M1300.6 598.8h0M1300.9 561.7h0M1301.2 574.5h0M1301.2 581.3h0M1301.6 622.6h0M1301.8 622.2h0M1301.9 632.7h0M1302.1 601.2h0M1302.4 628.4h0M1302.6 597.0h0M1303.0 616.4h0M1303.2 604.3h0M1303.3 637.8h0M1303.8 583.3h0M1303.9 617.9h0M1304.1 589.0h0M1304.3 572.3h0M1304.6 579.5h0M1305.0 577.1h0M1305.1 608.5h0M1305.3 607.9h0M1305.6 593.2h0M1305.8 572.1h0M1306.1 564.7h0M1306.2 657.8h0M1306.4 604.3h0M1306.6 572.2h0M1307.1 605.8h0M1307.1 590.5h0M1307.4 611.4h0M1307.7 609.9h0M1308.0 595.4h0M1308.3 613.8h0M1308.4 590.2h0M1308.6 598.4h0M1308.8 569.5h0M1309.1 567.8h0M1309.3 561.9h0M1309.6 584.2h0M1309.9 604.5h0M1310.1 601.0h0M1310.4 627.0h0M1310.5 627.8h0M1310.8 628.9h0M1311.1 634.6h0M1311.4 571.0h0M1311.5 577.1h0M1311.9 557.9h0M1311.9 617.2h0M1312.2 636.1h0M1312.5 611.9h0M1312.7 624.9h0M1313.0 595.6h0M1313.2 593.1h0M1313.3 570.6h0M1313.7 587.9h0M1313.8 537.2h0M1314.2 566.5h0M1314.3 607.2h0M1314.6 575.8h0M1314.8 578.4h0M1315.0 627.3h0M1315.4 612.2h0M1315.5 609.6h0M1315.7 557.5h0M1316.1 571.7h0M1316.3 591.5h0M1316.4 565.8h0M1316.7 551.3h0M1316.9 588.8h0M1317.1 576.0h0M1317.4 610.4h0M1317.7 617.0h0M1318.0 589.2h0M1318.1 610.5h0M1318.5 622.3h0M1318.7 607.5h0M1318.9 578.7h0M1319.1 596.5h0M1319.3 607.6h0M1319.6 603.2h0M1319.7 614.5h0M1320.2 609.5h0M1320.2 586.6h0M1320.5 571.2h0M1320.9 545.6h0M1321.0 594.5h0M1321.3 585.9h0M1321.5 603.0h0M1321.7 565.9h0M1322.1 576.6h0M1322.1 558.4h0M1322.4 631.1h0M1322.8 610.2h0M1322.9 573.8h0M1323.3 604.1h0M1323.4 607.6h0M1323.7 568.3h0M1323.9 577.3h0M1324.1 614.8h0M1324.4 564.3h0M1324.5 603.2h0M1324.9 602.0h0M1325.2 568.2h0M1325.2 580.3h0M1325.6 560.9h0M1325.8 554.1h0M1326.0 591.6h0M1326.3 592.6h0M1326.6 559.3h0M1326.8 603.8h0M1327.1 566.1h0M1327.3 606.4h0M1327.6 601.0h0M1327.8 608.0h0M1327.9 575.7h0M1328.1 591.8h0M1328.3 622.2h0M1328.6 595.6h0M1328.8 620.4h0M1329.2 553.4h0M1329.4 563.3h0M1329.6 580.0h0M1329.8 596.1h0M1330.1 604.6h0M1330.3 623.4h0M1330.7 570.1h0M1330.7 593.6h0M1331.0 555.7h0M1331.3 607.6h0M1331.4 579.2h0M1331.8 544.6h0M1332.0 587.0h0M1332.2 602.2h0M1332.4 568.2h0M1332.7 556.1h0M1333.0 608.6h0M1333.1 594.7h0M1333.3 582.0h0M1333.7 580.7h0M1333.9 561.5h0M1334.2 552.3h0M1334.4 550.2h0M1334.7 580.4h0M1335.0 608.4h0M1335.2 579.5h0M1335.3 612.8h0M1335.6 585.1h0M1335.8 558.4h0M1336.0 563.5h0M1336.2 561.5h0M1336.4 544.3h0M1336.7 608.2h0M1336.9 577.6h0M1337.3 588.7h0M1337.4 537.9h0M1337.6 541.1h0M1337.9 559.0h0M1338.1 548.3h0M1338.5 560.0h0M1338.6 550.0h0M1338.9 534.8h0M1339.1 548.1h0M1339.4 569.8h0M1339.7 569.6h0M1339.8 564.7h0M1340.1 551.9h0M1340.3 543.0h0M1340.5 553.2h0M1340.7 577.8h0M1341.1 593.1h0M1341.2 603.0h0M1341.6 591.6h0M1341.7 580.3h0M1342.1 545.2h0M1342.2 567.6h0M1342.5 551.5h0M1342.7 541.2h0M1343.0 559.5h0M1343.1 575.9h0M1343.4 585.0h0M1343.7 536.9h0M1343.9 543.7h0M1344.1 536.9h0M1344.4 537.0h0M1344.7 521.2h0M1344.9 525.3h0M1345.0 511.5h0M1345.3 509.3h0M1345.5 518.9h0M1345.8 523.6h0M1346.0 535.3h0M1346.4 538.4h0M1346.4 524.8h0M1346.9 531.1h0M1346.9 551.4h0M1347.1 542.5h0M1347.4 544.9h0M1347.7 534.0h0M1348.0 543.3h0M1348.3 513.0h0M1348.5 520.8h0M1348.6 505.6h0M1348.8 515.9h0M1349.2 510.5h0M1349.5 491.9h0M1349.5 516.6h0M1349.9 524.2h0M1350.0 498.8h0M1350.4 477.6h0M1350.6 496.9h0M1350.9 507.0h0M1351.1 497.5h0M1351.2 490.3h0M1351.5 479.9h0M1351.7 487.8h0M1352.0 507.4h0M1352.1 490.8h0M1352.4 499.6h0M1352.7 480.8h0M1352.8 460.2h0M1353.2 474.1h0M1353.5 478.3h0M1353.6 500.7h0M1354.0 503.6h0M1354.1 491.6h0M1354.3 488.0h0M1354.7 482.5h0M1354.9 499.3h0M1355.1 488.1h0M1355.3 485.2h0M1355.7 490.3h0M1355.7 490.8h0M1356.0 476.9h0M1356.2 479.6h0M1356.4 467.7h0M1356.8 480.3h0M1357.0 448.4h0M1357.3 436.9h0M1357.6 442.7h0M1357.7 448.3h0M1357.9 463.0h0M1358.2 446.2h0M1358.4 428.2h0M1358.6 439.9h0M1358.8 440.3h0M1359.1 447.2h0M1359.4 392.9h0M1359.5 419.0h0M1360.0 397.4h0M1360.0 443.5h0M1360.3 409.3h0M1360.5 412.9h0M1360.8 393.1h0M1361.0 380.8h0M1361.3 372.0h0M1361.6 357.5h0M1361.7 359.4h0M1362.1 370.3h0M1362.2 394.7h0M1362.5 355.9h0M1362.6 395.8h0M1363.0 353.0h0M1363.2 344.4h0M1363.5 368.2h0M1363.6 366.4h0M1364.0 376.7h0M1364.1 391.3h0M1364.4 401.1h0M1364.7 357.4h0M1364.8 377.4h0M1365.1 332.4h0M1365.4 316.9h0M1365.5 351.6h0M1365.8 341.3h0M1366.0 331.4h0M1366.2 365.0h0M1366.5 398.7h0M1366.8 338.2h0M1367.0 321.6h0M1367.3 377.5h0M1367.5 398.8h0M1367.7 341.3h0M1367.9 357.4h0M1368.2 343.2h0M1368.5 325.4h0M1368.7 305.8h0M1368.9 304.9h0M1369.1 313.3h0M1369.5 382.4h0M1369.6 397.3h0M1369.8 383.2h0M1370.2 381.5h0M1370.3 396.8h0M1370.7 383.0h0M1370.7 359.3h0M1370.9 353.1h0M1371.3 355.6h0M1371.6 354.5h0M1371.7 348.2h0M1372.1 364.1h0M1372.2 357.1h0M1372.6 352.3h0M1372.6 365.0h0M1372.9 396.3h0M1373.1 380.1h0M1373.5 371.2h0M1373.7 350.9h0M1373.9 396.5h0M1374.1 398.4h0M1374.4 416.9h0M1374.7 381.6h0M1374.8 408.2h0M1375.1 391.3h0M1375.4 409.6h0M1375.7 385.8h0M1375.9 379.4h0M1376.0 369.5h0M1376.3 377.8h0M1376.4 351.2h0M1376.7 378.3h0M1377.0 379.2h0M1377.2 368.8h0M1377.5 349.8h0M1377.7 370.5h0M1377.9 334.0h0M1378.1 375.4h0M1378.5 365.0h0M1378.5 372.5h0M1379.0 324.9h0M1379.2 372.8h0M1379.5 322.6h0M1379.7 304.3h0M1379.7 365.0h0M1380.0 352.5h0M1380.3 330.0h0M1380.5 350.2h0M1380.7 312.5h0M1381.1 358.9h0M1381.4 372.4h0M1381.6 362.3h0M1381.7 380.2h0M1382.1 385.3h0M1382.3 351.0h0M1382.4 324.6h0M1382.6 371.0h0M1382.9 360.5h0M1383.2 405.9h0M1383.5 387.5h0M1383.6 389.9h0M1383.9 371.3h0M1384.1 384.6h0M1384.5 398.9h0M1384.5 352.5h0M1384.9 378.9h0M1385.1 350.4h0M1385.4 341.0h0M1385.6 332.5h0M1385.9 388.7h0M1386.1 368.4h0M1386.2 330.0h0M1386.5 338.9h0M1386.7 359.4h0M1386.9 335.8h0M1387.1 398.6h0M1387.5 373.7h0M1387.6 373.7h0M1387.9 355.1h0M1388.3 336.0h0M1388.5 372.4h0M1388.8 353.9h0M1388.9 379.9h0M1389.0 369.2h0M1389.5 351.0h0M1389.6 343.8h0M1389.9 321.4h0M1390.0 356.7h0M1390.2 333.9h0M1390.6 317.9h0M1390.9 363.6h0M1391.1 369.6h0M1391.3 337.5h0M1391.5 355.7h0M1391.7 343.1h0M1391.9 339.5h0M1392.2 330.3h0M1392.5 361.0h0M1392.7 345.5h0M1392.9 366.9h0M1393.2 351.3h0M1393.4 349.9h0M1393.6 347.5h0M1394.0 362.2h0M1394.2 375.0h0M1394.3 390.4h0M1394.6 383.2h0M1394.8 327.9h0M1395.1 314.2h0M1395.2 346.1h0M1395.5 374.8h0M1395.7 332.9h0M1396.0 385.3h0M1396.3 337.5h0M1396.4 374.8h0M1396.9 342.3h0M1397.1 331.5h0M1397.2 387.5h0M1397.5 364.9h0M1397.8 372.2h0M1397.9 376.7h0M1398.2 365.2h0M1398.4 394.8h0M1398.6 275.0h0M1398.9 352.2h0M1399.0 329.9h0M1399.4 376.8h0M1399.5 354.2h0M1399.8 352.0h0M1400.2 369.6h0M1400.3 377.1h0M1400.5 361.2h0M1400.9 406.9h0M1401.1 389.8h0M1401.3 319.7h0M1401.5 362.9h0M1401.8 389.5h0M1402.0 396.9h0M1402.2 359.3h0M1402.5 348.9h0M1402.6 403.3h0M1403.0 374.1h0M1403.2 379.7h0M1403.5 382.0h0M1403.6 377.8h0M1403.9 383.1h0M1404.1 382.6h0M1404.3 321.5h0M1404.6 333.0h0M1404.8 326.8h0M1405.0 331.7h0M1405.3 361.0h0M1405.7 365.1h0M1405.8 334.6h0M1406.1 332.8h0M1406.2 344.6h0M1406.4 360.2h0M1406.9 334.1h0M1406.9 358.6h0M1407.1 384.3h0M1407.5 348.5h0M1407.7 388.2h0M1407.9 315.0h0M1408.2 385.0h0M1408.5 394.7h0M1408.6 395.2h0M1408.9 341.3h0M1409.1 333.8h0M1409.5 361.1h0M1409.5 340.9h0M1409.8 338.3h0M1410.1 305.6h0M1410.2 343.1h0M1410.7 364.1h0M1410.9 391.6h0M1411.0 390.5h0M1411.4 359.4h0M1411.5 324.1h0M1411.9 317.4h0M1411.9 322.3h0M1412.1 318.5h0M1412.4 359.2h0M1412.7 382.2h0M1412.8 320.7h0M1413.3 343.3h0M1413.5 356.2h0M1413.7 306.8h0M1413.9 371.9h0M1414.1 333.6h0M1414.5 419.9h0M1414.7 361.9h0M1414.8 390.2h0M1415.0 355.7h0M1415.2 391.4h0M1415.5 331.0h0M1415.8 358.0h0M1415.9 325.9h0M1416.4 344.3h0M1416.5 333.5h0M1416.8 372.6h0M1416.9 377.7h0M1417.3 369.2h0M1417.5 396.8h0M1417.6 328.4h0M1418.1 333.3h0M1418.1 326.7h0M1418.4 325.0h0M1418.7 352.5h0M1418.9 342.7h0M1419.2 309.8h0M1419.3 322.2h0M1419.6 330.8h0M1419.9 396.4h0M1420.2 373.4h0M1420.4 405.3h0M1420.5 346.7h0M1420.8 362.1h0M1421.0 359.0h0M1421.3 341.8h0M1421.5 372.2h0M1421.8 375.3h0M1422.1 373.4h0M1422.2 388.3h0M1422.4 372.4h0M1422.7 301.4h0M1423.1 331.7h0M1423.2 342.8h0M1423.5 366.3h0M1423.8 316.7h0M1423.9 323.1h0M1424.2 354.0h0M1424.3 321.5h0M1424.5 328.8h0M1424.8 330.8h0M1425.1 348.9h0M1425.3 376.1h0M1425.7 362.4h0M1425.8 382.7h0M1426.1 381.6h0M1426.3 379.4h0M1426.5 397.9h0M1426.8 369.5h0M1427.0 374.5h0M1427.2 347.4h0M1427.6 335.9h0M1427.8 343.0h0M1427.9 314.3h0M1428.1 341.9h0M1428.5 359.0h0M1428.7 330.6h0M1429.0 375.0h0M1429.2 354.2h0M1429.3 377.4h0M1429.7 334.4h0M1429.9 387.2h0M1430.1 378.2h0M1430.4 372.8h0M1430.6 385.9h0M1430.9 396.6h0M1431.0 353.2h0M1431.3 378.6h0M1431.6 356.7h0M1431.7 311.4h0M1432.0 362.4h0M1432.2 356.5h0M1432.5 328.3h0M1432.8 372.2h0M1433.0 349.4h0M1433.3 340.0h0M1433.5 374.0h0M1433.8 356.5h0M1433.8 385.2h0M1434.0 366.0h0M1434.4 326.0h0M1434.6 357.2h0M1434.9 374.8h0M1435.1 396.6h0M1435.4 397.8h0M1435.5 381.6h0M1435.8 391.0h0M1436.1 337.2h0M1436.4 350.2h0M1436.5 320.1h0M1436.8 379.7h0M1437.0 344.0h0M1437.2 353.8h0M1437.5 316.3h0M1437.8 305.9h0M1438.0 302.7h0M1438.1 385.7h0M1438.5 332.6h0M1438.8 340.4h0M1438.9 307.7h0M1439.2 381.1h0M1439.5 379.8h0M1439.7 380.0h0M1439.8 360.9h0M1440.2 353.2h0M1440.4 359.1h0M1440.5 358.8h0M1440.8 380.7h0M1440.9 385.2h0M1441.3 362.7h0M1441.6 325.2h0M1441.8 392.4h0M1442.1 381.9h0M1442.2 367.9h0M1442.4 375.5h0M1442.8 345.4h0M1442.8 356.7h0M1443.1 392.5h0M1443.4 362.8h0M1443.7 348.7h0M1443.9 337.7h0M1444.2 383.0h0M1444.4 386.1h0M1444.7 367.1h0M1444.9 384.0h0M1445.2 419.0h0M1445.3 373.1h0M1445.5 357.5h0M1445.8 377.1h0M1446.1 368.9h0M1446.4 364.5h0M1446.6 410.3h0M1446.7 367.5h0M1446.9 325.1h0M1447.3 338.5h0M1447.5 356.5h0M1447.7 367.4h0M1447.8 381.2h0M1448.1 372.6h0M1448.4 358.4h0M1448.6 356.7h0M1448.8 310.1h0M1449.0 345.9h0M1449.3 327.4h0M1449.6 370.0h0M1449.8 381.8h0M1450.0 355.5h0M1450.3 349.2h0M1450.7 351.1h0M1450.9 299.0h0M1451.0 316.4h0M1451.2 345.0h0M1451.5 358.8h0M1451.8 327.6h0M1452.0 323.1h0M1452.3 336.0h0M1452.5 364.9h0M1452.8 375.1h0M1453.0 336.1h0M1453.1 314.5h0M1453.4 332.4h0M1453.6 354.4h0M1453.9 356.6h0M1454.2 369.6h0M1454.3 391.9h0M1454.5 385.6h0M1454.8 328.0h0M1455.0 382.4h0M1455.3 367.1h0M1455.5 344.7h0M1455.9 322.4h0M1456.0 333.3h0M1456.3 331.4h0M1456.5 378.4h0M1456.7 346.3h0M1456.9 344.2h0M1457.2 383.9h0M1457.5 404.2h0M1457.7 347.9h0M1457.9 347.1h0M1458.3 342.2h0M1458.5 315.9h0M1458.6 323.4h0M1458.9 342.4h0M1459.2 354.5h0M1459.3 381.1h0M1459.6 316.1h0M1459.8 392.4h0M1460.2 365.3h0M1460.2 382.7h0M1460.7 359.1h0M1460.7 393.7h0M1461.0 374.1h0M1461.2 383.9h0M1461.6 377.8h0M1461.8 372.2h0M1461.9 352.8h0M1462.2 384.1h0M1462.4 368.5h0M1462.7 381.1h0M1462.9 374.2h0M1463.3 378.8h0M1463.4 343.2h0M1463.7 341.7h0M1463.8 340.9h0M1464.2 342.3h0M1464.4 366.8h0M1464.6 360.6h0M1464.9 354.2h0M1465.1 390.0h0M1465.2 334.4h0M1465.5 394.3h0M1465.9 374.1h0M1466.0 411.0h0M1466.3 370.5h0M1466.5 384.2h0M1466.8 361.1h0M1467.1 329.4h0M1467.2 355.8h0M1467.4 380.2h0M1467.7 351.9h0M1467.8 402.2h0M1468.1 333.4h0M1468.3 398.2h0M1468.6 340.5h0M1469.0 351.7h0M1469.1 361.6h0M1469.4 363.2h0M1469.5 365.9h0M1469.7 305.0h0M1470.2 320.6h0M1470.2 317.6h0M1470.5 307.5h0M1470.9 348.8h0M1471.0 376.9h0M1471.2 317.7h0M1471.6 330.7h0M1471.7 342.9h0M1472.1 380.2h0M1472.2 391.0h0M1472.5 370.9h0M1472.7 386.3h0M1472.9 371.3h0M1473.3 394.7h0M1473.5 391.4h0M1473.6 339.3h0M1474.0 319.5h0M1474.1 335.9h0M1474.3 322.9h0M1474.5 347.3h0M1474.9 334.0h0M1475.1 326.7h0M1475.4 366.2h0M1475.6 358.6h0M1475.8 347.9h0M1476.0 319.2h0M1476.2 348.7h0M1476.5 394.5h0M1476.9 366.1h0M1477.0 387.7h0M1477.3 370.4h0M1477.6 323.7h0M1477.8 354.6h0M1478.0 309.8h0M1478.2 309.3h0M1478.4 309.1h0M1478.7 374.9h0M1478.9 319.8h0M1479.2 334.6h0M1479.3 357.4h0M1479.7 369.1h0M1479.8 337.3h0M1480.2 343.2h0M1480.4 337.7h0M1480.5 340.5h0M1480.9 380.5h0M1481.1 366.5h0M1481.3 339.1h0M1481.5 369.8h0M1481.7 314.7h0M1481.9 357.2h0M1482.2 343.6h0M1482.5 310.4h0M1482.8 332.2h0M1483.0 335.0h0M1483.2 320.0h0M1483.4 330.9h0M1483.7 343.3h0M1484.0 369.6h0M1484.1 392.9h0M1484.4 357.1h0M1484.6 358.4h0M1485.0 361.6h0M1485.0 334.6h0M1485.4 366.7h0M1485.6 351.3h0M1485.8 361.2h0M1486.1 363.8h0M1486.3 356.5h0M1486.6 403.3h0M1486.7 374.9h0M1487.1 360.5h0M1487.2 359.9h0M1487.6 349.1h0M1487.7 387.1h0M1487.9 339.4h0M1488.3 340.6h0M1488.4 338.2h0M1488.8 348.2h0M1489.0 335.8h0M1489.2 337.8h0M1489.4 370.7h0M1489.6 376.8h0M1490.0 347.0h0M1490.1 325.2h0M1490.4 327.3h0M1490.6 336.0h0M1490.9 390.3h0M1491.0 359.1h0M1491.3 384.6h0M1491.4 337.2h0M1491.7 373.9h0M1491.9 354.5h0M1492.3 361.1h0M1492.4 343.3h0M1492.8 328.0h0M1492.9 356.4h0M1493.1 317.9h0M1493.5 337.9h0M1493.6 339.4h0M1493.8 339.6h0M1494.2 343.4h0M1494.3 372.5h0M1494.7 404.7h0M1494.8 355.0h0M1495.2 385.8h0M1495.3 352.5h0M1495.7 356.2h0M1495.8 377.5h0M1496.1 332.0h0M1496.2 347.4h0M1496.5 354.4h0M1496.8 311.1h0M1497.0 377.6h0M1497.3 351.1h0M1497.5 322.7h0M1497.7 350.0h0M1497.8 326.5h0M1498.2 334.8h0M1498.5 317.4h0M1498.7 354.0h0M1498.9 397.2h0M1499.2 394.3h0M1499.3 366.1h0M1499.7 313.0h0M1499.8 352.9h0M1500.1 338.5h0M1500.4 365.2h0M1500.5 381.3h0M1500.9 392.5h0M1501.0 384.4h0M1501.2 382.6h0M1501.5 351.8h0M1501.8 337.4h0M1501.9 353.5h0M1502.3 380.8h0M1502.4 353.4h0M1502.7 337.1h0M1502.9 331.9h0M1503.2 340.4h0M1503.4 366.7h0M1503.6 317.1h0M1503.8 360.3h0M1504.1 319.3h0M1504.4 375.7h0M1504.6 343.3h0M1504.9 401.1h0M1505.1 397.2h0M1505.3 331.4h0M1505.5 345.0h0M1505.7 333.7h0M1506.1 363.8h0M1506.3 352.0h0M1506.5 360.8h0M1506.7 344.6h0M1507.1 377.1h0M1507.3 331.9h0M1507.5 365.2h0M1507.8 333.3h0M1507.9 322.8h0M1508.2 376.4h0M1508.3 367.3h0M1508.7 322.0h0M1508.9 373.4h0M1509.2 366.8h0M1509.3 406.6h0M1509.6 380.2h0M1509.9 373.5h0M1510.2 367.0h0M1510.3 337.8h0M1510.5 358.2h0M1510.7 359.8h0M1511.1 372.7h0M1511.4 375.2h0M1511.4 390.1h0M1511.7 335.3h0M1511.9 359.2h0M1512.3 394.6h0M1512.4 332.3h0M1512.6 366.4h0M1513.0 374.7h0M1513.3 375.1h0M1513.5 392.9h0M1513.6 365.9h0M1513.9 319.5h0M1514.1 389.7h0M1514.5 352.9h0M1514.7 363.2h0M1514.8 362.8h0M1515.1 351.0h0M1515.4 332.1h0M1515.6 342.1h0M1515.8 343.7h0M1516.2 331.6h0M1516.4 343.5h0M1516.6 378.1h0M1516.8 376.4h0M1517.0 369.4h0M1517.2 375.2h0M1517.4 390.0h0M1517.7 381.9h0M1518.0 364.4h0M1518.3 349.4h0M1518.5 424.0h0M1518.6 392.5h0M1518.9 337.2h0M1519.1 373.0h0M1519.4 392.1h0M1519.7 357.0h0M1519.9 399.5h0M1520.1 389.8h0M1520.3 382.6h0M1520.7 375.0h0M1520.9 358.6h0M1521.1 325.7h0M1521.2 303.2h0M1521.5 320.6h0M1521.8 379.8h0M1522.1 346.3h0M1522.2 371.7h0M1522.5 368.5h0M1522.6 364.5h0M1522.8 348.1h0M1523.1 351.9h0M1523.5 355.9h0M1523.7 336.9h0M1523.9 363.1h0M1524.1 342.7h0M1524.3 352.3h0M1524.7 318.5h0M1524.9 350.9h0M1525.0 377.8h0M1525.4 389.1h0M1525.7 352.5h0M1525.7 381.0h0M1526.2 402.8h0M1526.2 402.0h0M1526.5 388.3h0M1526.9 420.7h0M1527.1 376.5h0M1527.2 348.6h0M1527.5 394.5h0M1527.7 357.8h0M1527.9 385.3h0M1528.3 334.9h0M1528.5 387.2h0M1528.6 412.8h0M1528.9 371.9h0M1529.2 326.7h0M1529.4 320.5h0M1529.6 375.4h0M1529.9 299.8h0M1530.0 334.7h0M1530.2 375.3h0M1530.5 331.1h0M1530.8 349.7h0M1531.0 371.3h0M1531.4 405.3h0M1531.6 350.6h0M1531.7 352.7h0M1532.0 330.3h0M1532.2 355.9h0M1532.5 324.5h0M1532.8 385.6h0M1533.0 376.3h0M1533.1 344.4h0M1533.5 395.2h0M1533.6 378.9h0M1533.9 350.7h0M1534.0 322.7h0M1534.4 320.6h0M1534.6 351.4h0M1534.9 335.1h0M1535.1 280.8h0M1535.4 334.8h0M1535.6 397.1h0M1535.7 378.7h0M1536.1 342.1h0M1536.3 373.4h0M1536.6 381.1h0M1536.7 347.8h0M1536.9 377.8h0M1537.3 362.3h0M1537.6 381.8h0M1537.8 317.1h0M1537.9 387.2h0M1538.3 340.2h0M1538.5 323.3h0M1538.7 346.2h0M1539.0 379.0h0M1539.2 384.7h0M1539.3 399.9h0M1539.5 372.0h0M1539.8 401.0h0M1540.1 374.8h0M1540.4 317.3h0M1540.6 317.1h0M1540.9 343.2h0M1541.1 320.9h0M1541.2 332.5h0M1541.5 337.5h0M1541.9 351.3h0M1542.1 373.0h0M1542.1 372.0h0M1542.5 348.8h0M1542.6 334.0h0M1543.0 371.7h0M1543.3 382.3h0M1543.3 335.4h0M1543.7 329.8h0M1543.9 391.0h0M1544.3 395.0h0M1544.5 362.9h0M1544.5 366.0h0M1544.9 399.5h0M1545.2 332.3h0M1545.3 337.6h0M1545.6 352.0h0M1545.8 361.2h0M328.8 1175.7h0M331.5 1173.2h0M318.2 1171.7h0M304.8 1170.1h0M319.5 1174.4h0M336.5 1174.6h0M306.8 1168.2h0M317.8 1169.4h0M299.6 1170.6h0M338.7 1174.9h0M328.3 1175.9h0M309.9 1168.7h0M309.5 1170.5h0M324.1 1171.4h0M302.4 1172.1h0M302.7 1166.5h0M323.0 1174.1h0M301.5 1173.0h0M307.1 1169.9h0M307.8 1172.4h0M314.1 1172.7h0M312.8 1171.6h0M306.2 1174.5h0M314.6 1167.9h0M307.4 1169.8h0M323.8 1173.0h0M341.0 1176.0h0M312.3 1169.5h0M330.2 1171.8h0M311.3 1170.1h0M303.4 1167.0h0M333.4 1171.3h0M320.2 1171.3h0M322.9 1176.0h0M338.3 1170.5h0M322.8 1166.3h0M343.5 1167.9h0M321.4 1171.7h0M319.5 1170.0h0M319.1 1170.0h0M343.4 1167.6h0M328.8 1173.4h0M317.4 1165.3h0M316.3 1168.0h0M329.5 1167.8h0M300.9 1176.0h0M302.7 1170.2h0M326.4 1175.1h0M341.6 1170.0h0M313.2 1166.2h0M313.1 1172.1h0M319.8 1174.4h0M325.8 1172.7h0M300.1 1175.8h0M314.2 1175.8h0M332.5 1169.7h0M320.3 1175.8h0M304.9 1173.8h0M299.7 1171.7h0M331.2 1171.6h0M317.6 1175.4h0M339.6 1174.6h0M316.4 1175.8h0M314.9 1169.1h0M320.9 1171.0h0M336.4 1176.0h0M323.5 1168.0h0M324.9 1169.0h0M323.5 1175.6h0M314.9 1171.1h0M324.4 1171.9h0M319.1 1172.6h0M299.7 1172.7h0M302.2 1173.3h0M316.0 1172.2h0M342.0 1175.4h0M313.6 1170.1h0M322.6 1173.8h0M334.5 1169.8h0M323.6 1171.0h0M340.9 1171.9h0M320.0 1176.0h0M341.7 1170.7h0M336.2 1172.1h0M325.0 1174.5h0M325.9 1172.4h0M317.2 1174.4h0M335.7 1171.7h0M339.0 1176.0h0M337.3 1175.8h0M317.3 1176.0h0M338.0 1176.0h0M329.7 1173.8h0M320.1 1164.8h0M316.4 1173.2h0M336.6 1171.4h0M301.8 1173.3h0M305.6 1174.6h0M307.9 1170.8h0M316.6 1169.9h0M325.9 1172.6h0M329.3 1176.0h0M299.1 1176.0h0M308.3 1171.5h0M322.3 1171.1h0M305.5 1169.3h0M340.5 1174.4h0M338.7 1170.2h0M317.8 1169.7h0M301.5 1171.4h0M320.3 1169.2h0M319.8 1170.3h0M300.4 1169.8h0M316.4 1173.8h0M328.5 1176.0h0M311.4 1155.0h0M330.4 1162.1h0M313.7 1157.5h0M306.6 1158.2h0M342.1 1154.5h0M332.9 1130.0h0M333.0 1155.2h0M318.6 1161.9h0M344.9 1127.0h0M306.5 1160.5h0M332.1 1162.3h0M342.7 1156.7h0M329.5 1139.0h0M317.8 1149.6h0M328.1 1136.5h0M1360.0 424.7h0M1356.5 426.0h0M1360.1 455.5h0M1351.2 493.7h0M1358.0 454.0h0M1344.8 495.0h0M1352.2 481.3h0M1348.7 470.8h0M1351.1 491.1h0M1356.1 453.1h0M1354.4 473.7h0M1356.7 483.4h0M1351.1 462.8h0M1357.2 420.2h0M1358.6 444.6h0M1353.3 479.7h0M1349.3 486.9h0M1361.0 450.9h0M1351.3 513.5h0M1354.9 499.3h0M1362.4 427.6h0M1360.1 483.4h0M1358.2 424.7h0M1352.6 479.3h0M1355.6 478.5h0M1362.0 421.4h0M1359.6 431.7h0M1364.6 435.8h0M1355.3 462.2h0M1354.9 462.1h0M1359.7 442.2h0M1352.9 479.8h0M1350.1 481.4h0M1360.5 454.9h0M1358.0 474.1h0M1352.4 491.7h0M1362.7 432.7h0M1357.4 465.1h0M1350.2 489.0h0M1360.6 389.3h0M1359.4 436.4h0M1351.7 473.9h0M1356.6 466.3h0M1351.9 496.6h0M1359.0 448.7h0M1362.4 454.5h0" fill="none" stroke="#000" stroke-width="8.7" stroke-linecap="round"/>
<rect x="316" y="43.3" width="768" height="577" fill="#fff" stroke="#b4bccb" stroke-width="4.6"/>
<rect x="316" y="43.3" width="768" height="577" fill="none" stroke="#485a73" stroke-width="2.5"/>
<g stroke-width="1.8" stroke="#7d7d7d" fill="none">
<path d="M494.2 516.8v-6.5M494.2 89.8v6.5"/>
<path d="M592.2 516.8v-6.5M592.2 89.8v6.5"/>
<path d="M690.2 516.8v-6.5M690.2 89.8v6.5"/>
<path d="M788.2 516.8v-6.5M788.2 89.8v6.5"/>
<path d="M886.2 516.8v-6.5M886.2 89.8v6.5"/>
<path d="M984.2 516.8v-6.5M984.2 89.8v6.5"/>
<path d="M417.8 410.0h6.5M1009.2 410.0h-6.5"/>
<path d="M417.8 303.3h6.5M1009.2 303.3h-6.5"/>
<path d="M417.8 196.6h6.5M1009.2 196.6h-6.5"/>
</g>
<g fill="#68abd9" stroke="#264660" stroke-width="1.7">
<rect x="494.2" y="496.6" width="49.0" height="20.2"/>
<rect x="543.2" y="303.3" width="49.0" height="213.5"/>
<rect x="592.2" y="111.1" width="49.0" height="405.6"/>
<rect x="641.2" y="260.6" width="49.0" height="256.2"/>
<rect x="690.2" y="452.8" width="49.0" height="64.0"/>
<rect x="739.2" y="452.8" width="49.0" height="64.0"/>
<rect x="788.2" y="431.4" width="49.0" height="85.4"/>
<rect x="837.2" y="388.7" width="49.0" height="128.1"/>
<rect x="886.2" y="496.6" width="49.0" height="20.2"/>
</g>
<rect x="417.8" y="89.8" width="591.4" height="427" stroke-width="2.6" stroke="#a6a6a6" fill="none"/>
<g fill="#222" font-size="38.3px">
<text x="494.7" y="564" text-anchor="middle">20</text>
<text x="592.7" y="564" text-anchor="middle">40</text>
<text x="690.7" y="564" text-anchor="middle">60</text>
<text x="788.7" y="564" text-anchor="middle">80</text>
<text x="886.7" y="564" text-anchor="middle">100</text>
<text x="984.7" y="564" text-anchor="middle">120</text>
<text x="406.6" y="530.4" text-anchor="end">0</text>
<text x="406.6" y="423.6" text-anchor="end">5</text>
<text x="406.6" y="316.9" text-anchor="end">10</text>
<text x="406.6" y="210.2" text-anchor="end">15</text>
<text x="406.6" y="103.4" text-anchor="end">20</text>
</g>
<text x="713.5" y="610.5" text-anchor="middle" font-size="39.6px" fill="#222">Step Size (nm)</text>
<text transform="translate(357.5 302) rotate(-90)" text-anchor="middle" font-size="39.6px" fill="#222">Number of Events</text>
<rect x="683.4" y="105.6" width="323.6" height="115.2" fill="#fff" stroke="#a9b2c3" stroke-width="5.6"/>
<rect x="683.4" y="105.6" width="323.6" height="115.2" fill="none" stroke="#43556f" stroke-width="3.4"/>
<text transform="translate(711 154.5) scale(1.027 1)" text-anchor="start" font-size="35px" fill="#111">Between 12.5 pN</text>
<text transform="translate(711 198.2) scale(1.027 1)" text-anchor="start" font-size="35px" fill="#111">and 40 pN</text>
<g fill="none" stroke="#fe0000" stroke-width="9.6" stroke-linejoin="round">
<path d="M1532 347.6 C1556 349 1572 350.05 1572 365.1 V478 Q1572 487 1581 487 H1615 H1581 Q1572 487 1572 496 V609.1 C1572 624.15 1556 625.2 1532 626.6"/>
<path d="M954 688.3 C978.24 689.5 994.4 690.4 994.4 704.3 V777 Q994.4 785 1002.4 785 H1036.5 H1002.4 Q994.4 785 994.4 793 V866.4 C994.4 880.3 978.24 881.2 954 882.4"/>
<path d="M585 944.7 C608.76 945.9 624.6 946.8 624.6 960.7 V1034 Q624.6 1042 632.6 1042 H665 H632.6 Q624.6 1042 624.6 1050 V1123.3 C624.6 1137.2 608.76 1138.1 585 1139.3"/>
<path d="M536 853.4 C519.2 854.2 508 854.8 508 867.4 V894.8 Q508 901.8 501 901.8 H476 H501 Q508 901.8 508 908.8 V936.4 C508 949 519.2 949.6 536 950.4"/>
</g>
<g fill="#fe0000" font-size="47.5px">
<text x="1638" y="504.7"><tspan dy="2.8">~</tspan><tspan dy="-2.8">150 nm</tspan></text>
<text x="1047.5" y="796.8"><tspan dy="2.8">~</tspan><tspan dy="-2.8">100 nm</tspan></text>
<text x="680" y="1055"><tspan dy="2.8">~</tspan><tspan dy="-2.8">100 nm</tspan></text>
<text x="308.5" y="922"><tspan dy="2.8">~</tspan><tspan dy="-2.8">50 nm</tspan></text>
</g>
<text transform="translate(1338 173) scale(1.035 1)" text-anchor="start" font-size="53.5px" fill="#111"><tspan dy="3.2">~</tspan><tspan dy="-3.2">20 pN</tspan></text>
</svg></body></html>
